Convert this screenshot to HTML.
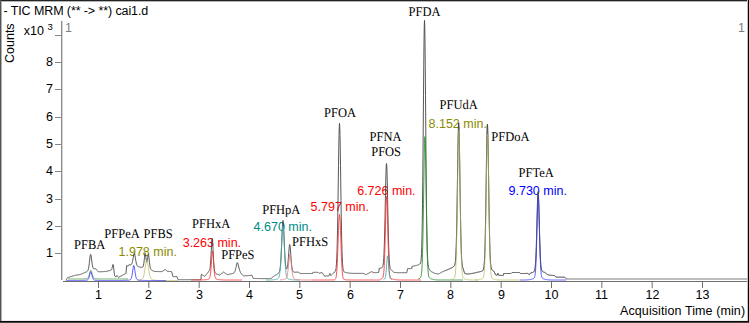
<!DOCTYPE html>
<html><head><meta charset="utf-8"><style>
html,body{margin:0;padding:0;background:#fff;}
#c{position:relative;width:749px;height:323px;overflow:hidden;background:#fff;}
.t{position:absolute;white-space:nowrap;line-height:12.5px;font-size:12.5px;font-family:'Liberation Sans', sans-serif;color:#000;}
.yl,.xl{font-size:12.5px;}
.b{position:absolute;}
svg{position:absolute;left:0;top:0;}
</style></head><body><div id="c">
<div class="t" style="left:3.5px;top:5px;font-family:'Liberation Sans', sans-serif;font-size:12.5px;color:#000;letter-spacing:-0.1px;">- TIC MRM (** -&gt; **) cai1.d</div>
<div class="t" style="left:620px;top:305px;font-family:'Liberation Sans', sans-serif;font-size:12.5px;color:#000;letter-spacing:0.1px;">Acquisition Time (min)</div>
<div class="t yl" style="left:30px;width:23px;text-align:right;top:247px">1</div>
<div class="t yl" style="left:30px;width:23px;text-align:right;top:220px">2</div>
<div class="t yl" style="left:30px;width:23px;text-align:right;top:193px">3</div>
<div class="t yl" style="left:30px;width:23px;text-align:right;top:165px">4</div>
<div class="t yl" style="left:30px;width:23px;text-align:right;top:138px">5</div>
<div class="t yl" style="left:30px;width:23px;text-align:right;top:111px">6</div>
<div class="t yl" style="left:30px;width:23px;text-align:right;top:83px">7</div>
<div class="t yl" style="left:30px;width:23px;text-align:right;top:56px">8</div>
<div class="t xl" style="left:78px;width:41px;text-align:center;top:289px">1</div>
<div class="t xl" style="left:128px;width:41px;text-align:center;top:289px">2</div>
<div class="t xl" style="left:179px;width:41px;text-align:center;top:289px">3</div>
<div class="t xl" style="left:229px;width:41px;text-align:center;top:289px">4</div>
<div class="t xl" style="left:279px;width:41px;text-align:center;top:289px">5</div>
<div class="t xl" style="left:330px;width:41px;text-align:center;top:289px">6</div>
<div class="t xl" style="left:380px;width:41px;text-align:center;top:289px">7</div>
<div class="t xl" style="left:430px;width:41px;text-align:center;top:289px">8</div>
<div class="t xl" style="left:481px;width:41px;text-align:center;top:289px">9</div>
<div class="t xl" style="left:531px;width:41px;text-align:center;top:289px">10</div>
<div class="t xl" style="left:581px;width:41px;text-align:center;top:289px">11</div>
<div class="t xl" style="left:632px;width:41px;text-align:center;top:289px">12</div>
<div class="t xl" style="left:682px;width:41px;text-align:center;top:289px">13</div>
<div class="t" style="left:74px;top:239px;font-family:'Liberation Serif', serif;font-size:12.5px;color:#000;text-rendering:geometricPrecision;transform:scaleY(1.065);transform-origin:0 10px;">PFBA</div>
<div class="t" style="left:104.3px;top:228px;font-family:'Liberation Serif', serif;font-size:12.5px;color:#000;text-rendering:geometricPrecision;transform:scaleY(1.065);transform-origin:0 10px;">PFPeA</div>
<div class="t" style="left:143.6px;top:228px;font-family:'Liberation Serif', serif;font-size:12.5px;color:#000;text-rendering:geometricPrecision;transform:scaleY(1.065);transform-origin:0 10px;">PFBS</div>
<div class="t" style="left:192px;top:218px;font-family:'Liberation Serif', serif;font-size:12.5px;color:#000;text-rendering:geometricPrecision;transform:scaleY(1.065);transform-origin:0 10px;">PFHxA</div>
<div class="t" style="left:221.2px;top:249px;font-family:'Liberation Serif', serif;font-size:12.5px;color:#000;text-rendering:geometricPrecision;transform:scaleY(1.065);transform-origin:0 10px;">PFPeS</div>
<div class="t" style="left:262.2px;top:204px;font-family:'Liberation Serif', serif;font-size:12.5px;color:#000;text-rendering:geometricPrecision;transform:scaleY(1.065);transform-origin:0 10px;">PFHpA</div>
<div class="t" style="left:292px;top:236px;font-family:'Liberation Serif', serif;font-size:12.5px;color:#000;text-rendering:geometricPrecision;transform:scaleY(1.065);transform-origin:0 10px;">PFHxS</div>
<div class="t" style="left:324px;top:107px;font-family:'Liberation Serif', serif;font-size:12.5px;color:#000;text-rendering:geometricPrecision;transform:scaleY(1.065);transform-origin:0 10px;">PFOA</div>
<div class="t" style="left:369.6px;top:131px;font-family:'Liberation Serif', serif;font-size:12.5px;color:#000;text-rendering:geometricPrecision;transform:scaleY(1.065);transform-origin:0 10px;">PFNA</div>
<div class="t" style="left:371.2px;top:146px;font-family:'Liberation Serif', serif;font-size:12.5px;color:#000;text-rendering:geometricPrecision;transform:scaleY(1.065);transform-origin:0 10px;">PFOS</div>
<div class="t" style="left:408.5px;top:6px;font-family:'Liberation Serif', serif;font-size:12.5px;color:#000;text-rendering:geometricPrecision;transform:scaleY(1.065);transform-origin:0 10px;">PFDA</div>
<div class="t" style="left:439.5px;top:99px;font-family:'Liberation Serif', serif;font-size:12.5px;color:#000;text-rendering:geometricPrecision;transform:scaleY(1.065);transform-origin:0 10px;">PFUdA</div>
<div class="t" style="left:491.3px;top:131px;font-family:'Liberation Serif', serif;font-size:12.5px;color:#000;text-rendering:geometricPrecision;transform:scaleY(1.065);transform-origin:0 10px;">PFDoA</div>
<div class="t" style="left:518.5px;top:167px;font-family:'Liberation Serif', serif;font-size:12.5px;color:#000;text-rendering:geometricPrecision;transform:scaleY(1.065);transform-origin:0 10px;">PFTeA</div>
<div class="t" style="left:118.5px;top:246px;font-family:'Liberation Sans', sans-serif;font-size:12.5px;color:#8b8b00;">1.978 min.</div>
<div class="t" style="left:182.7px;top:237px;font-family:'Liberation Sans', sans-serif;font-size:12.5px;color:#ff0000;">3.263 min.</div>
<div class="t" style="left:253.6px;top:221px;font-family:'Liberation Sans', sans-serif;font-size:12.5px;color:#008b8b;">4.670 min.</div>
<div class="t" style="left:310.6px;top:201px;font-family:'Liberation Sans', sans-serif;font-size:12.5px;color:#ff0000;">5.797 min.</div>
<div class="t" style="left:357.2px;top:185px;font-family:'Liberation Sans', sans-serif;font-size:12.5px;color:#ff0000;">6.726 min.</div>
<div class="t" style="left:428.5px;top:118px;font-family:'Liberation Sans', sans-serif;font-size:12.5px;color:#8b8b00;">8.152 min.</div>
<div class="t" style="left:508.5px;top:185px;font-family:'Liberation Sans', sans-serif;font-size:12.5px;color:#0000ff;">9.730 min.</div>
<svg width="749" height="323" viewBox="0 0 749 323">
<rect x="61" y="21" width="1" height="259" fill="#8c8c8c"/>
<rect x="62" y="21" width="1" height="259" fill="#d4d4d4"/>
<rect x="55" y="253" width="6" height="1" fill="#858585"/>
<rect x="55" y="226" width="6" height="1" fill="#858585"/>
<rect x="55" y="199" width="6" height="1" fill="#858585"/>
<rect x="55" y="171" width="6" height="1" fill="#858585"/>
<rect x="55" y="144" width="6" height="1" fill="#858585"/>
<rect x="55" y="117" width="6" height="1" fill="#858585"/>
<rect x="55" y="89" width="6" height="1" fill="#858585"/>
<rect x="55" y="62" width="6" height="1" fill="#858585"/>
<rect x="55" y="35" width="6" height="1" fill="#858585"/>
<rect x="566" y="278" width="181" height="2" fill="#bdbdbd"/>
<rect x="63" y="281" width="684" height="1" fill="#6e6e6e"/>
<rect x="98.0" y="282" width="1" height="6" fill="#6e6e6e"/>
<rect x="148.33" y="282" width="1" height="6" fill="#6e6e6e"/>
<rect x="198.67" y="282" width="1" height="6" fill="#6e6e6e"/>
<rect x="249.0" y="282" width="1" height="6" fill="#6e6e6e"/>
<rect x="299.33" y="282" width="1" height="6" fill="#6e6e6e"/>
<rect x="349.66" y="282" width="1" height="6" fill="#6e6e6e"/>
<rect x="400.0" y="282" width="1" height="6" fill="#6e6e6e"/>
<rect x="450.33" y="282" width="1" height="6" fill="#6e6e6e"/>
<rect x="500.66" y="282" width="1" height="6" fill="#6e6e6e"/>
<rect x="551.0" y="282" width="1" height="6" fill="#6e6e6e"/>
<rect x="601.33" y="282" width="1" height="6" fill="#6e6e6e"/>
<rect x="651.66" y="282" width="1" height="6" fill="#6e6e6e"/>
<rect x="702.0" y="282" width="1" height="6" fill="#6e6e6e"/>
<path d="M66.00,280.00 L66.25,279.62 L66.50,279.25 L66.75,278.88 L67.00,278.50 L67.25,278.12 L67.50,277.75 L67.75,277.55 L68.00,277.48 L68.25,277.40 L68.50,277.32 L68.75,277.25 L69.00,277.17 L69.25,277.10 L69.50,277.02 L69.75,276.94 L70.00,276.87 L70.25,276.79 L70.50,276.71 L70.75,276.64 L71.00,276.56 L71.25,276.49 L71.50,276.41 L71.75,276.34 L72.00,276.27 L72.25,276.19 L72.50,276.12 L72.75,276.05 L73.00,275.97 L73.25,275.90 L73.50,275.83 L73.75,275.75 L74.00,275.68 L74.25,275.61 L74.50,275.53 L74.75,275.46 L75.00,275.39 L75.25,275.31 L75.50,275.27 L75.75,275.23 L76.00,275.19 L76.25,275.15 L76.50,275.11 L76.75,275.07 L77.00,275.03 L77.25,274.99 L77.50,274.95 L77.75,274.91 L78.00,274.86 L78.25,274.82 L78.50,274.78 L78.75,274.74 L79.00,274.70 L79.25,274.65 L79.50,274.61 L79.75,274.57 L80.00,274.52 L80.25,274.48 L80.50,274.41 L80.75,274.30 L81.00,274.20 L81.25,274.10 L81.50,273.99 L81.75,273.88 L82.00,273.78 L82.25,273.67 L82.50,273.56 L82.75,273.45 L83.00,273.34 L83.25,273.24 L83.50,273.13 L83.75,273.02 L84.00,272.91 L84.25,272.80 L84.50,272.68 L84.75,272.57 L85.00,272.45 L85.25,272.36 L85.50,272.27 L85.75,272.17 L86.00,272.07 L86.25,271.96 L86.50,271.84 L86.75,271.70 L87.00,271.54 L87.25,271.34 L87.50,271.08 L87.75,270.72 L88.00,270.21 L88.25,269.46 L88.50,268.44 L88.75,267.13 L89.00,265.48 L89.25,263.53 L89.50,261.34 L89.75,259.08 L90.00,256.97 L90.25,255.32 L90.50,254.40 L90.75,254.41 L91.00,255.32 L91.25,256.90 L91.50,258.87 L91.75,260.92 L92.00,262.87 L92.25,264.56 L92.50,265.94 L92.75,267.00 L93.00,267.75 L93.25,268.25 L93.50,268.57 L93.75,268.74 L94.00,268.83 L94.25,268.86 L94.50,268.85 L94.75,268.82 L95.00,268.77 L95.25,268.72 L95.50,268.65 L95.75,268.67 L96.00,268.99 L96.25,269.31 L96.50,269.63 L96.75,269.95 L97.00,270.27 L97.25,270.58 L97.50,270.89 L97.75,271.20 L98.00,271.51 L98.25,271.76 L98.50,271.76 L98.75,271.75 L99.00,271.75 L99.25,271.75 L99.50,271.75 L99.75,271.74 L100.00,271.74 L100.25,271.73 L100.50,271.72 L100.75,271.72 L101.00,271.71 L101.25,271.70 L101.50,271.69 L101.75,271.68 L102.00,271.67 L102.25,271.66 L102.50,271.65 L102.75,271.64 L103.00,271.63 L103.25,271.62 L103.50,271.61 L103.75,271.60 L104.00,271.59 L104.25,271.58 L104.50,271.57 L104.75,271.55 L105.00,271.54 L105.25,271.52 L105.50,271.51 L105.75,271.50 L106.00,271.48 L106.25,271.42 L106.50,271.36 L106.75,271.29 L107.00,271.23 L107.25,271.16 L107.50,271.10 L107.75,271.03 L108.00,270.97 L108.25,270.90 L108.50,270.84 L108.75,270.77 L109.00,270.70 L109.25,270.63 L109.50,270.56 L109.75,270.49 L110.00,270.41 L110.25,270.34 L110.50,270.25 L110.75,270.16 L111.00,270.05 L111.25,269.90 L111.50,269.66 L111.75,269.22 L112.00,268.49 L112.25,267.46 L112.50,266.18 L112.75,265.00 L113.00,264.50 L113.25,265.00 L113.50,266.18 L113.75,268.71 L114.00,270.99 L114.25,272.91 L114.50,274.53 L114.75,275.96 L115.00,276.39 L115.25,276.54 L115.50,276.67 L115.75,276.79 L116.00,276.91 L116.25,276.55 L116.50,276.19 L116.75,275.82 L117.00,275.45 L117.25,275.79 L117.50,276.13 L117.75,276.46 L118.00,276.80 L118.25,277.14 L118.50,277.47 L118.75,277.31 L119.00,277.14 L119.25,276.98 L119.50,276.81 L119.75,276.65 L120.00,276.48 L120.25,276.36 L120.50,276.23 L120.75,276.11 L121.00,275.98 L121.25,275.86 L121.50,275.73 L121.75,275.60 L122.00,275.48 L122.25,275.35 L122.50,275.22 L122.75,275.10 L123.00,274.97 L123.25,274.84 L123.50,274.71 L123.75,274.58 L124.00,274.45 L124.25,274.32 L124.50,274.19 L124.75,274.06 L125.00,273.93 L125.25,273.80 L125.50,273.66 L125.75,273.53 L126.00,273.39 L126.25,270.05 L126.50,266.71 L126.75,265.48 L127.00,265.64 L127.25,265.81 L127.50,265.98 L127.75,266.15 L128.00,266.31 L128.25,265.87 L128.50,265.43 L128.75,264.99 L129.00,264.54 L129.25,264.63 L129.50,264.72 L129.75,264.80 L130.00,264.87 L130.25,264.93 L130.50,264.97 L130.75,264.91 L131.00,264.80 L131.25,264.62 L131.50,264.34 L131.75,263.92 L132.00,263.32 L132.25,262.53 L132.50,261.51 L132.75,260.29 L133.00,258.89 L133.25,257.40 L133.50,255.94 L133.75,254.65 L134.00,253.74 L134.25,253.36 L134.50,253.60 L134.75,254.43 L135.00,255.70 L135.25,257.22 L135.50,258.83 L135.75,260.38 L136.00,261.78 L136.25,262.99 L136.50,263.98 L136.75,264.76 L137.00,265.35 L137.25,265.78 L137.50,266.10 L137.75,266.33 L138.00,266.50 L138.25,266.63 L138.50,266.74 L138.75,266.83 L139.00,266.90 L139.25,266.97 L139.50,267.03 L139.75,267.08 L140.00,267.13 L140.25,267.17 L140.50,267.21 L140.75,267.25 L141.00,267.27 L141.25,267.30 L141.50,267.31 L141.75,267.31 L142.00,267.29 L142.25,267.26 L142.50,267.17 L142.75,266.98 L143.00,266.64 L143.25,266.04 L143.50,265.11 L143.75,263.75 L144.00,261.95 L144.25,259.77 L144.50,257.43 L144.75,255.27 L145.00,253.78 L145.25,253.39 L145.50,254.23 L145.75,255.97 L146.00,258.08 L146.25,260.06 L146.50,261.51 L146.75,262.18 L147.00,261.99 L147.25,260.97 L147.50,259.31 L147.75,257.34 L148.00,255.52 L148.25,254.40 L148.50,254.43 L148.75,255.66 L149.00,257.75 L149.25,260.21 L149.50,262.63 L149.75,264.74 L150.00,266.42 L150.25,267.66 L150.50,268.52 L150.75,269.10 L151.00,269.48 L151.25,269.75 L151.50,269.94 L151.75,270.10 L152.00,270.23 L152.25,270.40 L152.50,270.55 L152.75,270.70 L153.00,270.84 L153.25,270.98 L153.50,271.12 L153.75,271.26 L154.00,271.39 L154.25,271.41 L154.50,271.42 L154.75,271.44 L155.00,271.45 L155.25,271.46 L155.50,271.47 L155.75,271.48 L156.00,271.49 L156.25,271.50 L156.50,271.51 L156.75,271.52 L157.00,271.53 L157.25,271.53 L157.50,271.54 L157.75,271.55 L158.00,271.55 L158.25,271.56 L158.50,271.56 L158.75,271.57 L159.00,271.57 L159.25,271.58 L159.50,271.58 L159.75,271.58 L160.00,271.59 L160.25,271.59 L160.50,271.59 L160.75,271.59 L161.00,271.59 L161.25,271.59 L161.50,271.60 L161.75,271.60 L162.00,271.60 L162.25,271.43 L162.50,271.27 L162.75,271.10 L163.00,270.93 L163.25,270.77 L163.50,270.60 L163.75,270.43 L164.00,270.27 L164.25,270.10 L164.50,269.93 L164.75,269.77 L165.00,269.60 L165.25,269.43 L165.50,269.61 L165.75,269.88 L166.00,270.14 L166.25,270.41 L166.50,270.67 L166.75,270.94 L167.00,271.20 L167.25,271.22 L167.50,271.24 L167.75,271.27 L168.00,271.29 L168.25,271.31 L168.50,271.33 L168.75,271.35 L169.00,271.37 L169.25,271.40 L169.50,271.42 L169.75,271.44 L170.00,271.46 L170.25,271.48 L170.50,271.50 L170.75,271.53 L171.00,271.55 L171.25,271.57 L171.50,271.59 L171.75,272.18 L172.00,273.14 L172.25,274.10 L172.50,275.06 L172.75,276.02 L173.00,276.60 L173.25,276.60 L173.50,276.60 L173.75,276.60 L174.00,276.60 L174.25,276.60 L174.50,276.60 L174.75,276.60 L175.00,276.60 L175.25,276.60 L175.50,276.60 L175.75,276.60 L176.00,276.60 L176.25,276.60 L176.50,276.60 L176.75,276.60 L177.00,276.60 L177.25,277.46 L177.50,278.32 L177.75,279.18 L178.00,279.70 L178.25,279.70 L178.50,279.70 L178.75,279.70 L179.00,279.70 L179.25,279.70 L179.50,279.70 L179.75,279.70 L180.00,279.70 L180.25,279.70 L180.50,279.70 L180.75,279.70 L181.00,279.70 L181.25,279.70 L181.50,279.70 L181.75,279.70 L182.00,279.70 L182.25,279.70 L182.50,279.70 L182.75,279.70 L183.00,279.70 L183.25,279.70 L183.50,279.70 L183.75,279.70 L184.00,279.70 L184.25,279.70 L184.50,279.70 L184.75,279.70 L185.00,279.70 L185.25,279.70 L185.50,279.70 L185.75,279.70 L186.00,279.70 L186.25,279.70 L186.50,279.70 L186.75,279.70 L187.00,279.70 L187.25,279.70 L187.50,279.70 L187.75,279.70 L188.00,279.70 L188.25,279.70 L188.50,279.70 L188.75,279.70 L189.00,279.70 L189.25,279.70 L189.50,279.70 L189.75,279.70 L190.00,279.70 L190.25,279.70 L190.50,279.70 L190.75,279.70 L191.00,279.70 L191.25,279.70 L191.50,279.70 L191.75,279.70 L192.00,279.70 L192.25,279.70 L192.50,279.70 L192.75,279.70 L193.00,279.70 L193.25,279.70 L193.50,279.70 L193.75,279.70 L194.00,279.70 L194.25,279.70 L194.50,279.70 L194.75,279.70 L195.00,279.70 L195.25,279.70 L195.50,279.70 L195.75,279.70 L196.00,279.70 L196.25,279.70 L196.50,279.70 L196.75,279.70 L197.00,279.70 L197.25,279.70 L197.50,279.70 L197.75,279.70 L198.00,279.70 L198.25,279.70 L198.50,279.70 L198.75,279.69 L199.00,279.69 L199.25,279.68 L199.50,279.68 L199.75,279.68 L200.00,279.67 L200.25,279.67 L200.50,279.66 L200.75,279.65 L201.00,279.65 L201.25,275.14 L201.50,274.36 L201.75,274.52 L202.00,274.67 L202.25,274.83 L202.50,274.98 L202.75,275.13 L203.00,275.28 L203.25,275.43 L203.50,275.58 L203.75,275.73 L204.00,275.87 L204.25,276.01 L204.50,276.16 L204.75,276.31 L205.00,276.11 L205.25,275.82 L205.50,275.53 L205.75,275.23 L206.00,274.94 L206.25,274.64 L206.50,274.33 L206.75,274.02 L207.00,273.71 L207.25,273.39 L207.50,273.06 L207.75,272.72 L208.00,272.37 L208.25,272.00 L208.50,271.61 L208.75,271.48 L209.00,271.28 L209.25,270.96 L209.50,270.44 L209.75,269.61 L210.00,268.32 L210.25,266.41 L210.50,263.74 L210.75,260.23 L211.00,255.92 L211.25,251.13 L211.50,246.24 L211.75,241.96 L212.00,239.13 L212.25,238.49 L212.50,240.24 L212.75,243.93 L213.00,248.73 L213.25,253.82 L213.50,258.62 L213.75,262.75 L214.00,266.06 L214.25,268.54 L214.50,270.31 L214.75,271.52 L215.00,272.34 L215.25,272.85 L215.50,273.19 L215.75,273.44 L216.00,273.63 L216.25,273.79 L216.50,273.92 L216.75,274.04 L217.00,274.14 L217.25,274.24 L217.50,274.33 L217.75,274.42 L218.00,274.50 L218.25,274.57 L218.50,274.64 L218.75,274.71 L219.00,274.78 L219.25,274.84 L219.50,274.90 L219.75,274.91 L220.00,274.72 L220.25,274.53 L220.50,274.35 L220.75,274.17 L221.00,273.98 L221.25,273.79 L221.50,273.60 L221.75,273.41 L222.00,273.22 L222.25,273.03 L222.50,272.83 L222.75,272.64 L223.00,272.44 L223.25,272.25 L223.50,272.05 L223.75,272.22 L224.00,272.40 L224.25,272.57 L224.50,272.75 L224.75,272.92 L225.00,273.10 L225.25,273.27 L225.50,273.44 L225.75,273.61 L226.00,273.78 L226.25,273.95 L226.50,274.12 L226.75,274.29 L227.00,274.45 L227.25,274.62 L227.50,274.62 L227.75,274.57 L228.00,274.52 L228.25,274.47 L228.50,274.43 L228.75,274.38 L229.00,274.33 L229.25,274.27 L229.50,274.22 L229.75,274.18 L230.00,274.13 L230.25,274.08 L230.50,274.03 L230.75,273.97 L231.00,273.92 L231.25,273.87 L231.50,273.81 L231.75,273.75 L232.00,273.69 L232.25,273.63 L232.50,273.56 L232.75,273.48 L233.00,273.40 L233.25,273.30 L233.50,273.18 L233.75,273.02 L234.00,272.82 L234.25,272.57 L234.50,272.24 L234.75,271.80 L235.00,271.23 L235.25,270.52 L235.50,269.65 L235.75,268.64 L236.00,267.51 L236.25,266.33 L236.50,265.15 L236.75,264.08 L237.00,263.25 L237.25,262.75 L237.50,262.69 L237.75,263.05 L238.00,263.77 L238.25,264.75 L238.50,265.87 L238.75,267.01 L239.00,268.10 L239.25,269.09 L239.50,269.93 L239.75,270.63 L240.00,271.18 L240.25,271.83 L240.50,272.38 L240.75,272.83 L241.00,273.21 L241.25,273.55 L241.50,273.85 L241.75,274.13 L242.00,274.39 L242.25,274.64 L242.50,274.89 L242.75,275.13 L243.00,275.36 L243.25,275.59 L243.50,275.83 L243.75,275.91 L244.00,275.90 L244.25,275.88 L244.50,275.87 L244.75,275.85 L245.00,275.83 L245.25,275.81 L245.50,275.80 L245.75,275.78 L246.00,275.77 L246.25,275.75 L246.50,275.73 L246.75,275.71 L247.00,275.69 L247.25,275.67 L247.50,275.65 L247.75,275.63 L248.00,275.61 L248.25,275.59 L248.50,275.57 L248.75,275.54 L249.00,275.52 L249.25,275.50 L249.50,275.48 L249.75,275.45 L250.00,275.43 L250.25,275.41 L250.50,275.37 L250.75,275.30 L251.00,275.23 L251.25,275.16 L251.50,275.09 L251.75,275.01 L252.00,275.49 L252.25,276.09 L252.50,276.70 L252.75,277.31 L253.00,277.91 L253.25,278.40 L253.50,278.41 L253.75,278.42 L254.00,278.42 L254.25,278.43 L254.50,278.44 L254.75,278.45 L255.00,278.45 L255.25,278.46 L255.50,278.47 L255.75,278.48 L256.00,278.48 L256.25,278.49 L256.50,278.50 L256.75,278.50 L257.00,278.51 L257.25,278.52 L257.50,278.53 L257.75,278.53 L258.00,278.54 L258.25,278.55 L258.50,278.56 L258.75,278.56 L259.00,278.57 L259.25,278.58 L259.50,278.59 L259.75,278.59 L260.00,278.60 L260.25,278.60 L260.50,278.60 L260.75,278.60 L261.00,278.60 L261.25,278.60 L261.50,278.60 L261.75,278.60 L262.00,278.60 L262.25,278.60 L262.50,278.60 L262.75,278.60 L263.00,278.60 L263.25,278.60 L263.50,278.60 L263.75,278.60 L264.00,278.60 L264.25,278.60 L264.50,278.60 L264.75,278.60 L265.00,278.60 L265.25,278.60 L265.50,278.60 L265.75,278.60 L266.00,278.60 L266.25,278.60 L266.50,278.60 L266.75,278.60 L267.00,278.60 L267.25,278.60 L267.50,278.60 L267.75,278.60 L268.00,278.60 L268.25,278.60 L268.50,278.60 L268.75,278.60 L269.00,278.60 L269.25,278.60 L269.50,278.59 L269.75,278.58 L270.00,278.58 L270.25,278.57 L270.50,278.56 L270.75,278.56 L271.00,278.47 L271.25,278.28 L271.50,278.09 L271.75,277.89 L272.00,277.70 L272.25,277.50 L272.50,277.31 L272.75,277.11 L273.00,276.91 L273.25,276.71 L273.50,276.50 L273.75,276.30 L274.00,276.09 L274.25,275.88 L274.50,275.75 L274.75,275.62 L275.00,275.50 L275.25,275.38 L275.50,275.27 L275.75,275.15 L276.00,275.02 L276.25,274.89 L276.50,274.76 L276.75,274.62 L277.00,274.48 L277.25,274.27 L277.50,274.04 L277.75,273.80 L278.00,273.56 L278.25,273.29 L278.50,272.99 L278.75,272.64 L279.00,272.22 L279.25,271.81 L279.50,271.22 L279.75,270.37 L280.00,269.14 L280.25,267.41 L280.50,265.05 L280.75,261.92 L281.00,257.96 L281.25,253.17 L281.50,247.64 L281.75,241.61 L282.00,235.47 L282.25,229.69 L282.50,224.88 L282.75,221.64 L283.00,220.47 L283.25,221.55 L283.50,224.68 L283.75,229.39 L284.00,235.07 L284.25,241.11 L284.50,247.02 L284.75,252.43 L285.00,257.09 L285.25,260.89 L285.50,263.85 L285.75,266.02 L286.00,267.50 L286.25,268.44 L286.50,268.91 L286.75,268.94 L287.00,268.56 L287.25,267.75 L287.50,266.47 L287.75,264.66 L288.00,262.32 L288.25,259.46 L288.50,256.22 L288.75,252.79 L289.00,249.49 L289.25,246.73 L289.50,244.96 L289.75,244.55 L290.00,245.60 L290.25,247.89 L290.50,251.00 L290.75,254.47 L291.00,257.94 L291.25,261.15 L291.50,263.93 L291.75,266.19 L292.00,267.96 L292.25,269.27 L292.50,270.21 L292.75,270.87 L293.00,271.32 L293.25,271.63 L293.50,271.85 L293.75,272.01 L294.00,272.13 L294.25,272.18 L294.50,272.21 L294.75,272.22 L295.00,272.23 L295.25,272.23 L295.50,272.23 L295.75,272.22 L296.00,272.21 L296.25,272.19 L296.50,272.17 L296.75,272.15 L297.00,272.12 L297.25,272.09 L297.50,272.05 L297.75,272.02 L298.00,271.99 L298.25,272.18 L298.50,272.36 L298.75,272.54 L299.00,272.71 L299.25,272.89 L299.50,273.06 L299.75,273.24 L300.00,273.41 L300.25,273.42 L300.50,273.43 L300.75,273.44 L301.00,273.45 L301.25,273.45 L301.50,273.46 L301.75,273.47 L302.00,273.47 L302.25,273.48 L302.50,273.48 L302.75,273.49 L303.00,273.49 L303.25,273.49 L303.50,273.50 L303.75,273.50 L304.00,273.50 L304.25,273.50 L304.50,273.50 L304.75,273.50 L305.00,273.50 L305.25,273.50 L305.50,273.50 L305.75,273.50 L306.00,273.50 L306.25,273.50 L306.50,273.50 L306.75,273.50 L307.00,273.50 L307.25,273.50 L307.50,273.50 L307.75,273.50 L308.00,273.50 L308.25,273.50 L308.50,273.50 L308.75,273.50 L309.00,273.50 L309.25,273.50 L309.50,273.50 L309.75,273.50 L310.00,273.50 L310.25,273.50 L310.50,273.50 L310.75,273.50 L311.00,273.50 L311.25,273.50 L311.50,273.50 L311.75,273.50 L312.00,273.50 L312.25,273.50 L312.50,273.50 L312.75,272.50 L313.00,272.30 L313.25,272.30 L313.50,272.30 L313.75,272.30 L314.00,272.30 L314.25,272.30 L314.50,272.30 L314.75,272.30 L315.00,272.30 L315.25,272.30 L315.50,272.30 L315.75,272.30 L316.00,272.30 L316.25,272.30 L316.50,272.30 L316.75,272.30 L317.00,272.30 L317.25,272.30 L317.50,272.30 L317.75,272.30 L318.00,272.30 L318.25,272.55 L318.50,272.80 L318.75,273.05 L319.00,273.30 L319.25,273.23 L319.50,273.17 L319.75,273.10 L320.00,273.03 L320.25,272.97 L320.50,272.90 L320.75,272.83 L321.00,272.77 L321.25,272.70 L321.50,272.63 L321.75,272.57 L322.00,272.50 L322.25,272.86 L322.50,273.22 L322.75,273.58 L323.00,273.94 L323.25,274.30 L323.50,274.66 L323.75,275.02 L324.00,275.38 L324.25,275.74 L324.50,276.10 L324.75,276.10 L325.00,276.10 L325.25,276.10 L325.50,276.10 L325.75,276.09 L326.00,276.08 L326.25,276.07 L326.50,276.06 L326.75,276.05 L327.00,276.04 L327.25,276.03 L327.50,276.01 L327.75,276.00 L328.00,275.98 L328.25,275.96 L328.50,275.94 L328.75,275.92 L329.00,275.90 L329.25,275.30 L329.50,274.69 L329.75,274.09 L330.00,273.48 L330.25,274.00 L330.50,274.51 L330.75,275.02 L331.00,275.52 L331.25,275.28 L331.50,275.03 L331.75,274.81 L332.00,274.58 L332.25,274.35 L332.50,274.11 L332.75,273.87 L333.00,273.62 L333.25,273.38 L333.50,273.14 L333.75,272.89 L334.00,272.62 L334.25,272.33 L334.50,272.02 L334.75,271.90 L335.00,271.72 L335.25,271.41 L335.50,270.89 L335.75,270.03 L336.00,268.66 L336.25,266.40 L336.50,263.04 L336.75,258.16 L337.00,251.38 L337.25,242.32 L337.50,230.76 L337.75,216.72 L338.00,200.58 L338.25,183.07 L338.50,165.35 L338.75,148.90 L339.00,135.40 L339.25,126.47 L339.50,123.32 L339.75,126.44 L340.00,135.35 L340.25,148.83 L340.50,165.25 L340.75,182.94 L341.00,200.43 L341.25,216.55 L341.50,230.56 L341.75,242.09 L342.00,251.13 L342.25,257.89 L342.50,262.74 L342.75,266.08 L343.00,268.31 L343.25,269.76 L343.50,270.68 L343.75,271.27 L344.00,271.65 L344.25,271.90 L344.50,272.08 L344.75,272.21 L345.00,272.32 L345.25,272.40 L345.50,272.47 L345.75,272.53 L346.00,272.59 L346.25,272.63 L346.50,272.67 L346.75,272.70 L347.00,272.73 L347.25,272.77 L347.50,272.81 L347.75,272.87 L348.00,272.92 L348.25,272.97 L348.50,273.01 L348.75,273.05 L349.00,273.08 L349.25,273.12 L349.50,273.14 L349.75,273.17 L350.00,273.20 L350.25,273.22 L350.50,273.24 L350.75,273.26 L351.00,273.28 L351.25,273.30 L351.50,273.31 L351.75,273.33 L352.00,273.34 L352.25,273.35 L352.50,273.36 L352.75,273.37 L353.00,273.38 L353.25,273.39 L353.50,273.40 L353.75,273.40 L354.00,273.40 L354.25,273.40 L354.50,273.40 L354.75,273.40 L355.00,273.40 L355.25,273.40 L355.50,273.40 L355.75,273.40 L356.00,273.40 L356.25,273.40 L356.50,273.40 L356.75,273.40 L357.00,273.40 L357.25,273.40 L357.50,273.40 L357.75,273.40 L358.00,273.40 L358.25,273.40 L358.50,273.40 L358.75,273.40 L359.00,273.40 L359.25,273.40 L359.50,273.40 L359.75,273.40 L360.00,273.40 L360.25,273.40 L360.50,273.40 L360.75,273.40 L361.00,273.40 L361.25,273.40 L361.50,273.40 L361.75,273.40 L362.00,273.40 L362.25,273.40 L362.50,273.40 L362.75,273.40 L363.00,273.40 L363.25,273.40 L363.50,273.45 L363.75,273.57 L364.00,273.70 L364.25,273.82 L364.50,273.95 L364.75,274.07 L365.00,274.20 L365.25,274.32 L365.50,274.45 L365.75,274.57 L366.00,274.70 L366.25,274.56 L366.50,274.41 L366.75,274.27 L367.00,274.13 L367.25,273.99 L367.50,273.84 L367.75,273.70 L368.00,273.56 L368.25,273.41 L368.50,273.27 L368.75,273.13 L369.00,272.99 L369.25,272.84 L369.50,272.70 L369.75,272.57 L370.00,272.44 L370.25,272.31 L370.50,272.18 L370.75,272.05 L371.00,271.91 L371.25,271.78 L371.50,271.65 L371.75,271.68 L372.00,271.82 L372.25,271.96 L372.50,272.09 L372.75,272.23 L373.00,272.36 L373.25,272.49 L373.50,272.63 L373.75,272.68 L374.00,272.67 L374.25,272.66 L374.50,272.66 L374.75,272.65 L375.00,272.64 L375.25,272.63 L375.50,272.63 L375.75,272.62 L376.00,272.60 L376.25,272.59 L376.50,272.58 L376.75,272.57 L377.00,272.55 L377.25,272.53 L377.50,272.52 L377.75,272.50 L378.00,272.47 L378.25,272.45 L378.50,272.42 L378.75,272.40 L379.00,270.34 L379.25,268.26 L379.50,268.24 L379.75,268.22 L380.00,268.19 L380.25,268.15 L380.50,268.12 L380.75,268.08 L381.00,268.03 L381.25,267.97 L381.50,267.89 L381.75,267.79 L382.00,267.63 L382.25,267.39 L382.50,267.01 L382.75,266.44 L383.00,265.50 L383.25,264.01 L383.50,261.71 L383.75,258.32 L384.00,253.56 L384.25,247.15 L384.50,238.96 L384.75,228.99 L385.00,217.54 L385.25,205.14 L385.50,192.66 L385.75,181.14 L386.00,171.76 L386.25,165.61 L386.50,163.50 L386.75,165.75 L387.00,172.03 L387.25,181.55 L387.50,193.20 L387.75,205.82 L388.00,218.34 L388.25,229.93 L388.50,240.03 L388.75,248.36 L389.00,254.90 L389.25,259.80 L389.50,263.32 L389.75,265.75 L390.00,267.38 L390.25,268.46 L390.50,269.03 L390.75,269.31 L391.00,269.57 L391.25,269.80 L391.50,270.08 L391.75,270.36 L392.00,270.63 L392.25,270.88 L392.50,271.12 L392.75,271.35 L393.00,271.58 L393.25,271.79 L393.50,272.00 L393.75,272.20 L394.00,272.39 L394.25,272.40 L394.50,272.42 L394.75,272.45 L395.00,272.47 L395.25,272.50 L395.50,272.52 L395.75,272.53 L396.00,272.55 L396.25,272.57 L396.50,272.58 L396.75,272.59 L397.00,272.60 L397.25,272.62 L397.50,272.63 L397.75,272.63 L398.00,272.64 L398.25,272.65 L398.50,272.66 L398.75,272.66 L399.00,272.67 L399.25,272.68 L399.50,272.68 L399.75,272.69 L400.00,272.69 L400.25,272.70 L400.50,272.70 L400.75,272.70 L401.00,272.70 L401.25,272.70 L401.50,272.70 L401.75,272.70 L402.00,272.70 L402.25,272.70 L402.50,272.70 L402.75,272.70 L403.00,272.70 L403.25,272.70 L403.50,272.70 L403.75,272.70 L404.00,272.70 L404.25,272.70 L404.50,272.70 L404.75,272.70 L405.00,272.70 L405.25,272.70 L405.50,272.70 L405.75,272.70 L406.00,272.70 L406.25,272.70 L406.50,272.70 L406.75,272.70 L407.00,271.68 L407.25,270.39 L407.50,269.11 L407.75,268.60 L408.00,268.60 L408.25,268.60 L408.50,268.60 L408.75,268.60 L409.00,268.60 L409.25,268.60 L409.50,268.60 L409.75,268.60 L410.00,268.60 L410.25,268.60 L410.50,268.60 L410.75,268.59 L411.00,268.57 L411.25,268.56 L411.50,268.54 L411.75,268.52 L412.00,266.97 L412.25,266.19 L412.50,266.16 L412.75,266.14 L413.00,266.11 L413.25,266.09 L413.50,266.06 L413.75,266.02 L414.00,265.99 L414.25,265.95 L414.50,265.91 L414.75,265.86 L415.00,265.81 L415.25,265.76 L415.50,265.70 L415.75,265.63 L416.00,265.56 L416.25,265.48 L416.50,265.39 L416.75,265.34 L417.00,265.27 L417.25,265.20 L417.50,265.13 L417.75,265.04 L418.00,264.95 L418.25,264.84 L418.50,264.73 L418.75,264.59 L419.00,264.44 L419.25,264.26 L419.50,264.05 L419.75,264.07 L420.00,263.99 L420.25,263.77 L420.50,263.28 L420.75,262.35 L421.00,260.71 L421.25,257.95 L421.50,253.52 L421.75,246.56 L422.00,236.50 L422.25,222.60 L422.50,204.32 L422.75,181.51 L423.00,154.65 L423.25,124.94 L423.50,94.36 L423.75,65.61 L424.00,41.77 L424.25,25.91 L424.50,20.39 L424.75,26.12 L425.00,42.20 L425.25,66.26 L425.50,95.23 L425.75,126.02 L426.00,155.94 L426.25,183.02 L426.50,206.04 L426.75,224.54 L427.00,238.66 L427.25,248.94 L427.50,256.11 L427.75,260.93 L428.00,264.09 L428.25,266.13 L428.50,267.45 L428.75,268.15 L429.00,268.68 L429.25,269.16 L429.50,269.60 L429.75,269.99 L430.00,270.35 L430.25,270.67 L430.50,270.91 L430.75,271.14 L431.00,271.35 L431.25,271.51 L431.50,271.66 L431.75,271.81 L432.00,271.94 L432.25,272.07 L432.50,272.20 L432.75,272.36 L433.00,272.50 L433.25,272.64 L433.50,272.78 L433.75,272.90 L434.00,273.02 L434.25,273.14 L434.50,273.26 L434.75,273.35 L435.00,273.41 L435.25,273.47 L435.50,273.52 L435.75,273.57 L436.00,273.61 L436.25,273.66 L436.50,273.70 L436.75,273.74 L437.00,273.78 L437.25,273.82 L437.50,273.86 L437.75,273.89 L438.00,273.93 L438.25,273.96 L438.50,273.99 L438.75,273.91 L439.00,273.76 L439.25,273.62 L439.50,273.47 L439.75,273.32 L440.00,273.18 L440.25,273.03 L440.50,272.88 L440.75,272.74 L441.00,272.59 L441.25,272.44 L441.50,272.29 L441.75,272.15 L442.00,272.00 L442.25,271.90 L442.50,271.79 L442.75,271.69 L443.00,271.59 L443.25,271.49 L443.50,271.38 L443.75,271.28 L444.00,271.18 L444.25,271.07 L444.50,270.97 L444.75,270.87 L445.00,270.76 L445.25,270.65 L445.50,270.54 L445.75,270.44 L446.00,270.34 L446.25,270.25 L446.50,270.15 L446.75,270.05 L447.00,269.94 L447.25,269.84 L447.50,269.74 L447.75,269.63 L448.00,269.53 L448.25,269.42 L448.50,269.31 L448.75,269.20 L449.00,269.08 L449.25,268.97 L449.50,268.85 L449.75,268.73 L450.00,268.61 L450.25,268.48 L450.50,268.35 L450.75,268.22 L451.00,268.10 L451.25,267.98 L451.50,267.86 L451.75,267.73 L452.00,267.60 L452.25,267.46 L452.50,267.31 L452.75,267.16 L453.00,267.00 L453.25,266.83 L453.50,266.64 L453.75,266.42 L454.00,266.15 L454.25,265.84 L454.50,265.52 L454.75,264.99 L455.00,264.09 L455.25,262.64 L455.50,260.36 L455.75,256.92 L456.00,251.92 L456.25,244.97 L456.50,235.72 L456.75,224.02 L457.00,209.94 L457.25,193.92 L457.50,176.79 L457.75,159.77 L458.00,144.35 L458.25,132.16 L458.50,124.67 L458.75,122.93 L459.00,127.19 L459.25,136.86 L459.50,150.69 L459.75,167.08 L460.00,184.45 L460.25,201.40 L460.50,216.87 L460.75,230.17 L461.00,241.03 L461.25,249.47 L461.50,255.75 L461.75,260.22 L462.00,263.29 L462.25,265.34 L462.50,266.69 L462.75,267.56 L463.00,268.34 L463.25,269.23 L463.50,270.02 L463.75,270.74 L464.00,271.43 L464.25,272.09 L464.50,272.74 L464.75,273.37 L465.00,273.54 L465.25,273.60 L465.50,273.65 L465.75,273.69 L466.00,273.73 L466.25,273.77 L466.50,273.80 L466.75,273.83 L467.00,273.88 L467.25,273.92 L467.50,273.96 L467.75,273.99 L468.00,274.00 L468.25,273.98 L468.50,273.96 L468.75,273.93 L469.00,273.90 L469.25,273.87 L469.50,273.84 L469.75,273.81 L470.00,273.78 L470.25,273.74 L470.50,273.70 L470.75,273.67 L471.00,273.63 L471.25,273.59 L471.50,273.55 L471.75,273.51 L472.00,273.47 L472.25,273.43 L472.50,273.38 L472.75,273.34 L473.00,273.29 L473.25,273.24 L473.50,273.19 L473.75,273.13 L474.00,273.08 L474.25,273.02 L474.50,272.96 L474.75,272.90 L475.00,272.84 L475.25,272.78 L475.50,272.72 L475.75,272.66 L476.00,272.59 L476.25,272.53 L476.50,272.46 L476.75,272.40 L477.00,272.33 L477.25,272.29 L477.50,272.24 L477.75,272.20 L478.00,272.15 L478.25,272.10 L478.50,272.05 L478.75,272.00 L479.00,271.94 L479.25,271.88 L479.50,271.82 L479.75,271.77 L480.00,271.71 L480.25,271.65 L480.50,271.59 L480.75,271.53 L481.00,271.46 L481.25,271.38 L481.50,271.29 L481.75,271.20 L482.00,271.09 L482.25,270.96 L482.50,270.80 L482.75,270.59 L483.00,270.29 L483.25,269.84 L483.50,269.15 L483.75,268.04 L484.00,266.30 L484.25,263.67 L484.50,259.79 L484.75,254.25 L485.00,246.66 L485.25,236.71 L485.50,224.26 L485.75,209.47 L486.00,192.86 L486.25,175.37 L486.50,158.26 L486.75,143.10 L487.00,131.52 L487.25,124.95 L487.50,124.30 L487.75,129.67 L488.00,140.30 L488.25,154.81 L488.50,171.59 L488.75,189.06 L489.00,205.85 L489.25,220.98 L489.50,233.83 L489.75,244.20 L490.00,252.16 L490.25,258.08 L490.50,262.27 L490.75,265.12 L491.00,267.01 L491.25,268.23 L491.50,269.03 L491.75,269.55 L492.00,269.91 L492.25,270.17 L492.50,270.39 L492.75,270.58 L493.00,270.75 L493.25,270.90 L493.50,271.04 L493.75,271.17 L494.00,271.30 L494.25,271.88 L494.50,272.45 L494.75,273.03 L495.00,273.59 L495.25,274.16 L495.50,274.72 L495.75,274.98 L496.00,275.02 L496.25,275.06 L496.50,275.09 L496.75,275.12 L497.00,275.15 L497.25,275.18 L497.50,274.66 L497.75,274.00 L498.00,273.34 L498.25,274.04 L498.50,274.73 L498.75,275.29 L499.00,275.31 L499.25,275.32 L499.50,275.33 L499.75,275.34 L500.00,275.35 L500.25,275.36 L500.50,275.37 L500.75,275.38 L501.00,275.39 L501.25,275.40 L501.50,275.40 L501.75,275.40 L502.00,275.40 L502.25,275.40 L502.50,275.40 L502.75,275.40 L503.00,275.40 L503.25,275.40 L503.50,274.77 L503.75,273.50 L504.00,273.50 L504.25,273.50 L504.50,273.50 L504.75,273.50 L505.00,273.50 L505.25,273.50 L505.50,273.50 L505.75,273.50 L506.00,273.50 L506.25,273.50 L506.50,273.50 L506.75,273.50 L507.00,273.50 L507.25,273.50 L507.50,273.50 L507.75,273.50 L508.00,273.50 L508.25,273.50 L508.50,273.50 L508.75,273.50 L509.00,273.50 L509.25,273.50 L509.50,273.50 L509.75,273.50 L510.00,273.50 L510.25,273.50 L510.50,273.50 L510.75,273.50 L511.00,273.50 L511.25,273.25 L511.50,273.00 L511.75,272.75 L512.00,272.50 L512.25,272.50 L512.50,272.50 L512.75,272.50 L513.00,272.50 L513.25,272.50 L513.50,272.50 L513.75,272.50 L514.00,272.50 L514.25,272.50 L514.50,272.50 L514.75,272.50 L515.00,272.50 L515.25,272.50 L515.50,272.50 L515.75,272.50 L516.00,272.50 L516.25,272.50 L516.50,272.50 L516.75,272.50 L517.00,272.50 L517.25,272.50 L517.50,272.50 L517.75,272.50 L518.00,272.50 L518.25,272.50 L518.50,272.50 L518.75,272.50 L519.00,272.50 L519.25,272.50 L519.50,272.65 L519.75,272.85 L520.00,273.04 L520.25,273.23 L520.50,273.42 L520.75,273.50 L521.00,273.50 L521.25,273.50 L521.50,273.50 L521.75,273.50 L522.00,273.50 L522.25,273.50 L522.50,273.50 L522.75,273.50 L523.00,273.50 L523.25,273.50 L523.50,273.50 L523.75,273.50 L524.00,273.50 L524.25,273.50 L524.50,273.49 L524.75,273.48 L525.00,273.47 L525.25,273.46 L525.50,273.45 L525.75,273.44 L526.00,273.43 L526.25,273.42 L526.50,273.40 L526.75,273.39 L527.00,273.37 L527.25,273.36 L527.50,273.42 L527.75,273.59 L528.00,273.77 L528.25,273.94 L528.50,274.11 L528.75,274.28 L529.00,274.45 L529.25,274.61 L529.50,274.36 L529.75,274.01 L530.00,273.65 L530.25,273.30 L530.50,272.96 L530.75,272.92 L531.00,272.88 L531.25,272.83 L531.50,272.79 L531.75,272.73 L532.00,272.67 L532.25,272.60 L532.50,272.52 L532.75,272.43 L533.00,272.33 L533.25,272.21 L533.50,272.05 L533.75,271.85 L534.00,271.58 L534.25,271.18 L534.50,270.56 L534.75,269.64 L535.00,268.27 L535.25,266.26 L535.50,263.38 L535.75,259.39 L536.00,254.08 L536.25,247.36 L536.50,239.25 L536.75,230.02 L537.00,220.15 L537.25,210.40 L537.50,201.72 L537.75,195.19 L538.00,191.81 L538.25,192.19 L538.50,196.23 L538.75,203.24 L539.00,212.19 L539.25,222.00 L539.50,231.76 L539.75,240.77 L540.00,248.58 L540.25,254.99 L540.50,259.98 L540.75,263.70 L541.00,266.36 L541.25,268.19 L541.50,269.42 L541.75,270.24 L542.00,270.78 L542.25,271.14 L542.50,271.41 L542.75,271.61 L543.00,271.76 L543.25,271.89 L543.50,272.00 L543.75,272.10 L544.00,272.19 L544.25,272.26 L544.50,272.33 L544.75,272.43 L545.00,272.63 L545.25,272.82 L545.50,273.02 L545.75,273.21 L546.00,273.39 L546.25,273.59 L546.50,273.78 L546.75,273.98 L547.00,274.17 L547.25,274.36 L547.50,274.54 L547.75,274.72 L548.00,274.80 L548.25,274.84 L548.50,274.88 L548.75,274.93 L549.00,274.97 L549.25,275.00 L549.50,275.04 L549.75,275.08 L550.00,275.11 L550.25,275.15 L550.50,275.18 L550.75,275.21 L551.00,275.24 L551.25,275.27 L551.50,275.30 L551.75,275.33 L552.00,275.36 L552.25,275.39 L552.50,275.41 L552.75,275.43 L553.00,275.45 L553.25,275.47 L553.50,275.50 L553.75,275.52 L554.00,275.54 L554.25,275.56 L554.50,275.58 L554.75,275.67 L555.00,276.00 L555.25,276.33 L555.50,276.67 L555.75,277.00 L556.00,277.20 L556.25,277.20 L556.50,277.20 L556.75,277.20 L557.00,277.20 L557.25,277.20 L557.50,277.20 L557.75,277.20 L558.00,277.20 L558.25,277.20 L558.50,277.20 L558.75,277.20 L559.00,277.20 L559.25,277.20 L559.50,277.20 L559.75,277.20 L560.00,277.20 L560.25,277.20 L560.50,277.20 L560.75,277.20 L561.00,277.20 L561.25,277.20 L561.50,277.20 L561.75,277.20 L562.00,277.20 L562.25,277.20 L562.50,277.20 L562.75,277.20 L563.00,277.20 L563.25,277.20 L563.50,277.20 L563.75,277.20 L564.00,277.20 L564.25,277.20 L564.50,277.20 L564.75,277.35 L565.00,277.60 L565.25,277.85 L565.50,278.10 L565.75,278.35 L566.00,278.40 L566.25,278.40 L566.50,278.40" fill="none" stroke="#444" stroke-width="0.9" stroke-opacity="1" stroke-linejoin="round"/>
<path d="M68.00,279.00 L68.25,279.00 L68.50,279.00 L68.75,279.00 L69.00,279.00 L69.25,279.00 L69.50,279.00 L69.75,279.00 L70.00,279.00 L70.25,279.00 L70.50,279.00 L70.75,279.00 L71.00,279.00 L71.25,279.00 L71.50,279.00 L71.75,279.00 L72.00,279.00 L72.25,279.00 L72.50,279.00 L72.75,279.00 L73.00,279.00 L73.25,279.00 L73.50,279.00 L73.75,279.00 L74.00,279.00 L74.25,279.00 L74.50,279.00 L74.75,279.00 L75.00,279.00 L75.25,279.00 L75.50,279.00 L75.75,279.00 L76.00,279.00 L76.25,279.00 L76.50,279.00 L76.75,279.00 L77.00,279.00 L77.25,279.00 L77.50,279.00 L77.75,278.99 L78.00,278.99 L78.25,278.99 L78.50,278.99 L78.75,278.99 L79.00,278.98 L79.25,278.98 L79.50,278.98 L79.75,278.98 L80.00,278.97 L80.25,278.97 L80.50,278.97 L80.75,278.96 L81.00,278.96 L81.25,278.95 L81.50,278.95 L81.75,278.94 L82.00,278.93 L82.25,278.93 L82.50,278.92 L82.75,278.91 L83.00,278.90 L83.25,278.90 L83.50,278.89 L83.75,278.88 L84.00,278.88 L84.25,278.87 L84.50,278.86 L84.75,278.84 L85.00,278.83 L85.25,278.82 L85.50,278.80 L85.75,278.78 L86.00,278.76 L86.25,278.72 L86.50,278.68 L86.75,278.63 L87.00,278.56 L87.25,278.45 L87.50,278.30 L87.75,278.10 L88.00,277.81 L88.25,277.44 L88.50,276.95 L88.75,276.34 L89.00,275.61 L89.25,274.77 L89.50,273.85 L89.75,272.90 L90.00,271.99 L90.25,271.21 L90.50,270.65 L90.75,270.41 L91.00,270.51 L91.25,270.96 L91.50,271.66 L91.75,272.53 L92.00,273.47 L92.25,274.41 L92.50,275.28 L92.75,276.06 L93.00,276.72 L93.25,277.26 L93.50,277.68 L93.75,277.99 L94.00,278.23 L94.25,278.40 L94.50,278.52 L94.75,278.60 L95.00,278.66 L95.25,278.71 L95.50,278.74 L95.75,278.77 L96.00,278.79 L96.25,278.81 L96.50,278.83 L96.75,278.84 L97.00,278.85 L97.25,278.86 L97.50,278.87 L97.75,278.88 L98.00,278.89 L98.25,278.90 L98.50,278.90 L98.75,278.91 L99.00,278.92 L99.25,278.92 L99.50,278.93 L99.75,278.94 L100.00,278.94 L100.25,278.95 L100.50,278.96 L100.75,278.96 L101.00,278.96 L101.25,278.97 L101.50,278.97 L101.75,278.97 L102.00,278.98 L102.25,278.98 L102.50,278.98 L102.75,278.99 L103.00,278.99 L103.25,278.99 L103.50,278.99 L103.75,278.99 L104.00,279.00 L104.25,279.00 L104.50,279.00 L104.75,279.00 L105.00,279.00 L105.25,279.00 L105.50,279.00 L105.75,279.00 L106.00,279.00 L106.25,279.00 L106.50,279.00 L106.75,279.00 L107.00,279.00 L107.25,279.00 L107.50,279.00 L107.75,279.00 L108.00,279.00 L108.25,279.00 L108.50,279.00 L108.75,279.00 L109.00,279.00 L109.25,279.00 L109.50,279.00 L109.75,279.00 L110.00,279.00 L110.25,279.00 L110.50,279.00 L110.75,279.00 L111.00,279.00 L111.25,279.00 L111.50,279.00 L111.75,279.00 L112.00,279.00 L112.25,279.00 L112.50,279.00 L112.75,279.00 L113.00,279.00 L113.25,279.00 L113.50,279.00 L113.75,279.00 L114.00,279.00 L114.25,279.00 L114.50,279.00 L114.75,279.00 L115.00,279.00 L115.25,279.00 L115.50,279.00 L115.75,279.00 L116.00,279.00 L116.25,279.00 L116.50,279.00 L116.75,279.00 L117.00,279.00 L117.25,279.00 L117.50,279.00 L117.75,279.00 L118.00,279.00 L118.25,279.00 L118.50,279.00 L118.75,279.00 L119.00,279.00 L119.25,279.00 L119.50,279.00 L119.75,279.00 L120.00,279.00 L120.25,279.00 L120.50,279.00 L120.75,279.00 L121.00,279.00 L121.25,279.00 L121.50,279.00 L121.75,279.00 L122.00,279.00 L122.25,279.00 L122.50,279.00 L122.75,279.00 L123.00,279.00 L123.25,279.00 L123.50,279.00 L123.75,279.00 L124.00,279.00 L124.25,279.00 L124.50,279.00 L124.75,279.00 L125.00,279.00 L125.25,279.00 L125.50,279.00 L125.75,279.00 L126.00,279.00 L126.25,279.00 L126.50,279.00 L126.75,279.00 L127.00,279.00 L127.25,279.00 L127.50,279.00 L127.75,279.00 L128.00,279.00" fill="none" stroke="#4a9a4a" stroke-width="0.85" stroke-opacity="1" stroke-linejoin="round"/>
<path d="M138.00,280.24 L138.25,280.21 L138.50,280.18 L138.75,280.14 L139.00,280.12 L139.25,280.10 L139.50,280.07 L139.75,280.04 L140.00,280.00 L140.25,279.97 L140.50,279.92 L140.75,279.87 L141.00,279.80 L141.25,279.72 L141.50,279.62 L141.75,279.49 L142.00,279.32 L142.25,279.10 L142.50,278.82 L142.75,278.45 L143.00,277.98 L143.25,277.39 L143.50,276.67 L143.75,275.78 L144.00,274.72 L144.25,273.50 L144.50,272.10 L144.75,270.56 L145.00,268.91 L145.25,267.19 L145.50,265.46 L145.75,263.82 L146.00,262.35 L146.25,261.16 L146.50,260.36 L146.75,260.01 L147.00,260.16 L147.25,260.79 L147.50,261.84 L147.75,263.21 L148.00,264.79 L148.25,266.49 L148.50,268.22 L148.75,269.91 L149.00,271.50 L149.25,272.96 L149.50,274.25 L149.75,275.38 L150.00,276.33 L150.25,277.12 L150.50,277.76 L150.75,278.28 L151.00,278.68 L151.25,279.00 L151.50,279.24 L151.75,279.43 L152.00,279.57 L152.25,279.68 L152.50,279.77 L152.75,279.84 L153.00,279.90 L153.25,279.95 L153.50,279.99 L153.75,280.03 L154.00,280.06 L154.25,280.08 L154.50,280.11 L154.75,280.13 L155.00,280.17 L155.25,280.20 L155.50,280.23 L155.75,280.25 L156.00,280.28 L156.25,280.30 L156.50,280.32 L156.75,280.34 L157.00,280.36 L157.25,280.37 L157.50,280.39 L157.75,280.40 L158.00,280.41 L158.25,280.42 L158.50,280.43 L158.75,280.44 L159.00,280.45 L159.25,280.46 L159.50,280.47 L159.75,280.47 L160.00,280.48 L160.25,280.49 L160.50,280.49 L160.75,280.50 L161.00,280.50 L161.25,280.50 L161.50,280.50 L161.75,280.50 L162.00,280.50 L162.25,280.50 L162.50,280.50 L162.75,280.50 L163.00,280.50 L163.25,280.50 L163.50,280.50 L163.75,280.50 L164.00,280.50 L164.25,280.50 L164.50,280.50 L164.75,280.50 L165.00,280.50 L165.25,280.50 L165.50,280.50 L165.75,280.50 L166.00,280.50 L166.25,280.50 L166.50,280.50 L166.75,280.50 L167.00,280.50 L167.25,280.50 L167.50,280.50 L167.75,280.50 L168.00,280.50 L168.25,280.50 L168.50,280.50 L168.75,280.50 L169.00,280.50 L169.25,280.50 L169.50,280.50 L169.75,280.50 L170.00,280.50 L170.25,280.50 L170.50,280.50 L170.75,280.50 L171.00,280.50 L171.25,280.50 L171.50,280.50 L171.75,280.50 L172.00,280.50 L172.25,280.50 L172.50,280.50 L172.75,280.50 L173.00,280.50 L173.25,280.50 L173.50,280.50 L173.75,280.50 L174.00,280.50 L174.25,280.50 L174.50,280.50 L174.75,280.50 L175.00,280.50 L175.25,280.50 L175.50,280.50 L175.75,280.50 L176.00,280.50 L176.25,280.50 L176.50,280.50 L176.75,280.50 L177.00,280.50 L177.25,280.50 L177.50,280.50 L177.75,280.50 L178.00,280.50" fill="none" stroke="#c0c070" stroke-width="0.85" stroke-opacity="1" stroke-linejoin="round"/>
<path d="M66.00,280.50 L66.25,280.50 L66.50,280.50 L66.75,280.50 L67.00,280.50 L67.25,280.50 L67.50,280.50 L67.75,280.50 L68.00,280.50 L68.25,280.50 L68.50,280.50 L68.75,280.50 L69.00,280.50 L69.25,280.50 L69.50,280.50 L69.75,280.50 L70.00,280.50 L70.25,280.50 L70.50,280.50 L70.75,280.50 L71.00,280.50 L71.25,280.50 L71.50,280.50 L71.75,280.50 L72.00,280.50 L72.25,280.50 L72.50,280.50 L72.75,280.50 L73.00,280.50 L73.25,280.50 L73.50,280.50 L73.75,280.50 L74.00,280.50 L74.25,280.50 L74.50,280.50 L74.75,280.50 L75.00,280.50 L75.25,280.50 L75.50,280.50 L75.75,280.50 L76.00,280.50 L76.25,280.50 L76.50,280.50 L76.75,280.50 L77.00,280.50 L77.25,280.50 L77.50,280.50 L77.75,280.50 L78.00,280.49 L78.25,280.49 L78.50,280.49 L78.75,280.49 L79.00,280.49 L79.25,280.48 L79.50,280.48 L79.75,280.48 L80.00,280.48 L80.25,280.47 L80.50,280.47 L80.75,280.47 L81.00,280.46 L81.25,280.46 L81.50,280.45 L81.75,280.45 L82.00,280.44 L82.25,280.44 L82.50,280.43 L82.75,280.42 L83.00,280.42 L83.25,280.41 L83.50,280.40 L83.75,280.40 L84.00,280.39 L84.25,280.38 L84.50,280.37 L84.75,280.36 L85.00,280.35 L85.25,280.34 L85.50,280.32 L85.75,280.31 L86.00,280.29 L86.25,280.26 L86.50,280.23 L86.75,280.19 L87.00,280.14 L87.25,280.06 L87.50,279.95 L87.75,279.79 L88.00,279.56 L88.25,279.24 L88.50,278.80 L88.75,278.22 L89.00,277.49 L89.25,276.63 L89.50,275.64 L89.75,274.60 L90.00,273.57 L90.25,272.66 L90.50,272.00 L90.75,271.71 L91.00,271.84 L91.25,272.36 L91.50,273.18 L91.75,274.18 L92.00,275.23 L92.25,276.25 L92.50,277.16 L92.75,277.95 L93.00,278.58 L93.25,279.07 L93.50,279.44 L93.75,279.71 L94.00,279.89 L94.25,280.02 L94.50,280.11 L94.75,280.17 L95.00,280.22 L95.25,280.25 L95.50,280.28 L95.75,280.30 L96.00,280.32 L96.25,280.33 L96.50,280.35 L96.75,280.36 L97.00,280.37 L97.25,280.38 L97.50,280.39 L97.75,280.40 L98.00,280.40 L98.25,280.41 L98.50,280.41 L98.75,280.42 L99.00,280.43 L99.25,280.43 L99.50,280.44 L99.75,280.45 L100.00,280.45 L100.25,280.46 L100.50,280.46 L100.75,280.46 L101.00,280.47 L101.25,280.47 L101.50,280.48 L101.75,280.48 L102.00,280.48 L102.25,280.48 L102.50,280.49 L102.75,280.49 L103.00,280.49 L103.25,280.49 L103.50,280.49 L103.75,280.49 L104.00,280.50 L104.25,280.50 L104.50,280.50 L104.75,280.50 L105.00,280.50 L105.25,280.50 L105.50,280.50 L105.75,280.50 L106.00,280.50 L106.25,280.50 L106.50,280.50 L106.75,280.50 L107.00,280.50 L107.25,280.50 L107.50,280.50 L107.75,280.50 L108.00,280.50 L108.25,280.50 L108.50,280.50 L108.75,280.50 L109.00,280.50 L109.25,280.50 L109.50,280.50 L109.75,280.50 L110.00,280.50 L110.25,280.50 L110.50,280.50 L110.75,280.50 L111.00,280.50 L111.25,280.50 L111.50,280.50 L111.75,280.50 L112.00,280.50 L112.25,280.50 L112.50,280.50 L112.75,280.50 L113.00,280.50 L113.25,280.50 L113.50,280.50 L113.75,280.50 L114.00,280.50 L114.25,280.50 L114.50,280.50 L114.75,280.50 L115.00,280.50 L115.25,280.50 L115.50,280.50 L115.75,280.50 L116.00,280.50 L116.25,280.50 L116.50,280.50 L116.75,280.50 L117.00,280.50 L117.25,280.50 L117.50,280.50 L117.75,280.50 L118.00,280.50 L118.25,280.50 L118.50,280.50 L118.75,280.50 L119.00,280.50 L119.25,280.50 L119.50,280.50 L119.75,280.50 L120.00,280.50 L120.25,280.50 L120.50,280.49 L120.75,280.49 L121.00,280.49 L121.25,280.49 L121.50,280.48 L121.75,280.48 L122.00,280.48 L122.25,280.47 L122.50,280.47 L122.75,280.46 L123.00,280.46 L123.25,280.45 L123.50,280.45 L123.75,280.44 L124.00,280.44 L124.25,280.43 L124.50,280.42 L124.75,280.41 L125.00,280.40 L125.25,280.39 L125.50,280.38 L125.75,280.37 L126.00,280.36 L126.25,280.35 L126.50,280.34 L126.75,280.33 L127.00,280.31 L127.25,280.30 L127.50,280.28 L127.75,280.27 L128.00,280.25 L128.25,280.23 L128.50,280.20 L128.75,280.17 L129.00,280.14 L129.25,280.10 L129.50,280.04 L129.75,279.98 L130.00,279.88 L130.25,279.75 L130.50,279.56 L130.75,279.29 L131.00,278.90 L131.25,278.34 L131.50,277.59 L131.75,276.61 L132.00,275.38 L132.25,273.90 L132.50,272.22 L132.75,270.44 L133.00,268.68 L133.25,267.14 L133.50,266.02 L133.75,265.51 L134.00,265.73 L134.25,266.63 L134.50,268.03 L134.75,269.73 L135.00,271.52 L135.25,273.25 L135.50,274.81 L135.75,276.15 L136.00,277.23 L136.25,278.07 L136.50,278.70 L136.75,279.15 L137.00,279.47 L137.25,279.69 L137.50,279.84 L137.75,279.94 L138.00,280.02 L138.25,280.08 L138.50,280.12 L138.75,280.16 L139.00,280.19 L139.25,280.22 L139.50,280.24 L139.75,280.26 L140.00,280.28 L140.25,280.29 L140.50,280.31 L140.75,280.32 L141.00,280.33 L141.25,280.34 L141.50,280.35 L141.75,280.36 L142.00,280.37 L142.25,280.39 L142.50,280.40 L142.75,280.41 L143.00,280.42 L143.25,280.43 L143.50,280.43 L143.75,280.44 L144.00,280.45 L144.25,280.45 L144.50,280.46 L144.75,280.46 L145.00,280.47 L145.25,280.47 L145.50,280.48 L145.75,280.48 L146.00,280.48 L146.25,280.49 L146.50,280.49 L146.75,280.49 L147.00,280.49 L147.25,280.50 L147.50,280.50 L147.75,280.50 L148.00,280.50 L148.25,280.50 L148.50,280.50 L148.75,280.50 L149.00,280.50 L149.25,280.50 L149.50,280.50 L149.75,280.50 L150.00,280.50 L150.25,280.50 L150.50,280.50 L150.75,280.50 L151.00,280.50 L151.25,280.50 L151.50,280.50 L151.75,280.50 L152.00,280.50 L152.25,280.50 L152.50,280.50 L152.75,280.50 L153.00,280.50 L153.25,280.50 L153.50,280.50 L153.75,280.50 L154.00,280.50 L154.25,280.50 L154.50,280.50 L154.75,280.50 L155.00,280.50 L155.25,280.50 L155.50,280.50 L155.75,280.50 L156.00,280.50 L156.25,280.50 L156.50,280.50 L156.75,280.50 L157.00,280.50 L157.25,280.50 L157.50,280.50 L157.75,280.50 L158.00,280.50 L158.25,280.50 L158.50,280.50 L158.75,280.50 L159.00,280.50 L159.25,280.50 L159.50,280.50 L159.75,280.50 L160.00,280.50 L160.25,280.50 L160.50,280.50 L160.75,280.50 L161.00,280.50 L161.25,280.50 L161.50,280.50 L161.75,280.50 L162.00,280.50 L162.25,280.50 L162.50,280.50 L162.75,280.50 L163.00,280.50 L163.25,280.50 L163.50,280.50 L163.75,280.50 L164.00,280.50 L164.25,280.50 L164.50,280.50 L164.75,280.50 L165.00,280.50 L165.25,280.50 L165.50,280.50 L165.75,280.50 L166.00,280.50" fill="none" stroke="#3b3bff" stroke-width="0.85" stroke-opacity="1" stroke-linejoin="round"/>
<path d="M191.00,280.00 L191.25,280.00 L191.50,280.00 L191.75,280.00 L192.00,280.00 L192.25,280.00 L192.50,280.00 L192.75,280.00 L193.00,280.00 L193.25,280.00 L193.50,280.00 L193.75,280.00 L194.00,280.00 L194.25,280.00 L194.50,280.00 L194.75,280.00 L195.00,280.00 L195.25,280.00 L195.50,280.00 L195.75,280.00 L196.00,280.00 L196.25,280.00 L196.50,280.00 L196.75,280.00 L197.00,280.00 L197.25,280.00 L197.50,280.00 L197.75,280.00 L198.00,280.00 L198.25,280.00 L198.50,280.00 L198.75,280.00 L199.00,279.99 L199.25,279.99 L199.50,279.99 L199.75,279.98 L200.00,279.98 L200.25,279.97 L200.50,279.97 L200.75,279.96 L201.00,279.95 L201.25,279.95 L201.50,279.94 L201.75,279.93 L202.00,279.92 L202.25,279.91 L202.50,279.90 L202.75,279.89 L203.00,279.88 L203.25,279.87 L203.50,279.85 L203.75,279.84 L204.00,279.82 L204.25,279.80 L204.50,279.78 L204.75,279.76 L205.00,279.75 L205.25,279.73 L205.50,279.71 L205.75,279.69 L206.00,279.67 L206.25,279.64 L206.50,279.61 L206.75,279.58 L207.00,279.54 L207.25,279.50 L207.50,279.45 L207.75,279.40 L208.00,279.33 L208.25,279.25 L208.50,279.15 L208.75,279.01 L209.00,278.82 L209.25,278.55 L209.50,278.14 L209.75,277.53 L210.00,276.62 L210.25,275.33 L210.50,273.54 L210.75,271.19 L211.00,268.27 L211.25,264.85 L211.50,261.12 L211.75,257.40 L212.00,254.12 L212.25,251.83 L212.50,251.00 L212.75,251.83 L213.00,254.12 L213.25,257.40 L213.50,261.12 L213.75,264.85 L214.00,268.27 L214.25,271.19 L214.50,273.54 L214.75,275.33 L215.00,276.62 L215.25,277.53 L215.50,278.14 L215.75,278.55 L216.00,278.82 L216.25,279.01 L216.50,279.15 L216.75,279.25 L217.00,279.33 L217.25,279.40 L217.50,279.45 L217.75,279.50 L218.00,279.54 L218.25,279.58 L218.50,279.61 L218.75,279.64 L219.00,279.67 L219.25,279.69 L219.50,279.71 L219.75,279.73 L220.00,279.75 L220.25,279.76 L220.50,279.78 L220.75,279.80 L221.00,279.82 L221.25,279.84 L221.50,279.85 L221.75,279.87 L222.00,279.88 L222.25,279.89 L222.50,279.90 L222.75,279.91 L223.00,279.92 L223.25,279.93 L223.50,279.94 L223.75,279.95 L224.00,279.95 L224.25,279.96 L224.50,279.97 L224.75,279.97 L225.00,279.98 L225.25,279.98 L225.50,279.99 L225.75,279.99 L226.00,279.99 L226.25,280.00 L226.50,280.00 L226.75,280.00 L227.00,280.00 L227.25,280.00 L227.50,280.00 L227.75,280.00 L228.00,280.00 L228.25,280.00 L228.50,280.00 L228.75,280.00 L229.00,280.00 L229.25,280.00 L229.50,280.00 L229.75,280.00 L230.00,280.00 L230.25,280.00 L230.50,280.00 L230.75,280.00 L231.00,280.00 L231.25,280.00 L231.50,280.00 L231.75,280.00 L232.00,280.00 L232.25,280.00 L232.50,280.00 L232.75,280.00 L233.00,280.00 L233.25,280.00 L233.50,280.00 L233.75,280.00 L234.00,280.00 L234.25,280.00 L234.50,280.00 L234.75,280.00 L235.00,280.00 L235.25,280.00 L235.50,280.00 L235.75,280.00 L236.00,280.00 L236.25,280.00 L236.50,280.00 L236.75,280.00 L237.00,280.00 L237.25,280.00 L237.50,280.00 L237.75,280.00 L238.00,280.00 L238.25,280.00 L238.50,280.00 L238.75,280.00 L239.00,280.00 L239.25,280.00 L239.50,280.00 L239.75,280.00 L240.00,280.00 L240.25,280.00 L240.50,280.00 L240.75,280.00 L241.00,280.00 L241.25,280.00 L241.50,280.00 L241.75,280.00 L242.00,280.00" fill="none" stroke="#ff3030" stroke-width="0.85" stroke-opacity="1" stroke-linejoin="round"/>
<path d="M266.00,280.00 L266.25,280.00 L266.50,280.00 L266.75,280.00 L267.00,280.00 L267.25,280.00 L267.50,280.00 L267.75,280.00 L268.00,280.00 L268.25,280.00 L268.50,280.00 L268.75,280.00 L269.00,280.00 L269.25,279.99 L269.50,279.98 L269.75,279.97 L270.00,279.97 L270.25,279.96 L270.50,279.95 L270.75,279.94 L271.00,279.92 L271.25,279.91 L271.50,279.90 L271.75,279.88 L272.00,279.87 L272.25,279.85 L272.50,279.83 L272.75,279.81 L273.00,279.79 L273.25,279.76 L273.50,279.74 L273.75,279.71 L274.00,279.67 L274.25,279.64 L274.50,279.60 L274.75,279.56 L275.00,279.52 L275.25,279.49 L275.50,279.45 L275.75,279.42 L276.00,279.38 L276.25,279.33 L276.50,279.28 L276.75,279.22 L277.00,279.15 L277.25,279.07 L277.50,278.98 L277.75,278.85 L278.00,278.69 L278.25,278.46 L278.50,278.15 L278.75,277.72 L279.00,277.10 L279.25,276.24 L279.50,275.06 L279.75,273.47 L280.00,271.37 L280.25,268.70 L280.50,265.39 L280.75,261.43 L281.00,256.87 L281.25,251.81 L281.50,246.44 L281.75,241.03 L282.00,235.92 L282.25,231.50 L282.50,228.17 L282.75,226.31 L283.00,226.14 L283.25,227.68 L283.50,230.73 L283.75,234.97 L284.00,239.97 L284.25,245.35 L284.50,250.75 L284.75,255.89 L285.00,260.57 L285.25,264.65 L285.50,268.09 L285.75,270.89 L286.00,273.09 L286.25,274.78 L286.50,276.04 L286.75,276.95 L287.00,277.61 L287.25,278.08 L287.50,278.41 L287.75,278.65 L288.00,278.82 L288.25,278.95 L288.50,279.06 L288.75,279.14 L289.00,279.21 L289.25,279.27 L289.50,279.32 L289.75,279.37 L290.00,279.41 L290.25,279.45 L290.50,279.48 L290.75,279.51 L291.00,279.55 L291.25,279.59 L291.50,279.63 L291.75,279.67 L292.00,279.70 L292.25,279.73 L292.50,279.76 L292.75,279.78 L293.00,279.80 L293.25,279.83 L293.50,279.85 L293.75,279.86 L294.00,279.88 L294.25,279.89 L294.50,279.91 L294.75,279.92 L295.00,279.93 L295.25,279.94 L295.50,279.95 L295.75,279.96 L296.00,279.97 L296.25,279.98 L296.50,279.99 L296.75,280.00 L297.00,280.00 L297.25,280.00 L297.50,280.00 L297.75,280.00 L298.00,280.00 L298.25,280.00 L298.50,280.00 L298.75,280.00 L299.00,280.00 L299.25,280.00 L299.50,280.00 L299.75,280.00 L300.00,280.00" fill="none" stroke="#50acac" stroke-width="0.85" stroke-opacity="1" stroke-linejoin="round"/>
<path d="M280.00,279.86 L280.25,279.85 L280.50,279.83 L280.75,279.81 L281.00,279.79 L281.25,279.77 L281.50,279.74 L281.75,279.71 L282.00,279.68 L282.25,279.66 L282.50,279.64 L282.75,279.62 L283.00,279.59 L283.25,279.56 L283.50,279.53 L283.75,279.49 L284.00,279.45 L284.25,279.40 L284.50,279.35 L284.75,279.28 L285.00,279.20 L285.25,279.10 L285.50,278.97 L285.75,278.80 L286.00,278.56 L286.25,278.23 L286.50,277.78 L286.75,277.17 L287.00,276.36 L287.25,275.29 L287.50,273.94 L287.75,272.27 L288.00,270.28 L288.25,268.00 L288.50,265.48 L288.75,262.83 L289.00,260.20 L289.25,257.77 L289.50,255.78 L289.75,254.46 L290.00,254.00 L290.25,254.46 L290.50,255.78 L290.75,257.77 L291.00,260.20 L291.25,262.83 L291.50,265.48 L291.75,268.00 L292.00,270.28 L292.25,272.27 L292.50,273.94 L292.75,275.29 L293.00,276.36 L293.25,277.17 L293.50,277.78 L293.75,278.23 L294.00,278.56 L294.25,278.80 L294.50,278.97 L294.75,279.10 L295.00,279.20 L295.25,279.28 L295.50,279.35 L295.75,279.40 L296.00,279.45 L296.25,279.49 L296.50,279.53 L296.75,279.56 L297.00,279.59 L297.25,279.62 L297.50,279.64 L297.75,279.66 L298.00,279.68 L298.25,279.71 L298.50,279.74 L298.75,279.77 L299.00,279.79 L299.25,279.81 L299.50,279.83 L299.75,279.85 L300.00,279.86 L300.25,279.88 L300.50,279.89 L300.75,279.90 L301.00,279.91 L301.25,279.92 L301.50,279.93 L301.75,279.94 L302.00,279.95 L302.25,279.96 L302.50,279.97 L302.75,279.97 L303.00,279.98 L303.25,279.99 L303.50,279.99 L303.75,280.00 L304.00,280.00 L304.25,280.00 L304.50,280.00 L304.75,280.00 L305.00,280.00 L305.25,280.00 L305.50,280.00 L305.75,280.00 L306.00,280.00 L306.25,280.00 L306.50,280.00 L306.75,280.00 L307.00,280.00 L307.25,280.00 L307.50,280.00 L307.75,280.00 L308.00,280.00 L308.25,280.00 L308.50,280.00 L308.75,280.00 L309.00,280.00 L309.25,280.00 L309.50,280.00 L309.75,280.00 L310.00,280.00 L310.25,280.00 L310.50,280.00 L310.75,280.00 L311.00,280.00 L311.25,280.00 L311.50,280.00 L311.75,280.00 L312.00,280.00" fill="none" stroke="#e08080" stroke-width="0.85" stroke-opacity="1" stroke-linejoin="round"/>
<path d="M312.00,280.00 L312.25,280.00 L312.50,280.00 L312.75,280.00 L313.00,280.00 L313.25,280.00 L313.50,280.00 L313.75,280.00 L314.00,280.00 L314.25,280.00 L314.50,280.00 L314.75,280.00 L315.00,280.00 L315.25,280.00 L315.50,280.00 L315.75,280.00 L316.00,280.00 L316.25,280.00 L316.50,280.00 L316.75,280.00 L317.00,280.00 L317.25,280.00 L317.50,280.00 L317.75,280.00 L318.00,280.00 L318.25,280.00 L318.50,280.00 L318.75,280.00 L319.00,280.00 L319.25,280.00 L319.50,280.00 L319.75,280.00 L320.00,280.00 L320.25,280.00 L320.50,280.00 L320.75,280.00 L321.00,280.00 L321.25,280.00 L321.50,280.00 L321.75,280.00 L322.00,280.00 L322.25,280.00 L322.50,280.00 L322.75,280.00 L323.00,280.00 L323.25,280.00 L323.50,280.00 L323.75,280.00 L324.00,280.00 L324.25,280.00 L324.50,280.00 L324.75,280.00 L325.00,280.00 L325.25,280.00 L325.50,280.00 L325.75,280.00 L326.00,280.00 L326.25,280.00 L326.50,280.00 L326.75,279.99 L327.00,279.99 L327.25,279.99 L327.50,279.99 L327.75,279.99 L328.00,279.98 L328.25,279.98 L328.50,279.98 L328.75,279.98 L329.00,279.97 L329.25,279.97 L329.50,279.97 L329.75,279.96 L330.00,279.96 L330.25,279.96 L330.50,279.95 L330.75,279.95 L331.00,279.94 L331.25,279.93 L331.50,279.93 L331.75,279.92 L332.00,279.92 L332.25,279.91 L332.50,279.90 L332.75,279.90 L333.00,279.89 L333.25,279.88 L333.50,279.87 L333.75,279.85 L334.00,279.83 L334.25,279.80 L334.50,279.75 L334.75,279.67 L335.00,279.54 L335.25,279.31 L335.50,278.94 L335.75,278.36 L336.00,277.46 L336.25,276.12 L336.50,274.19 L336.75,271.53 L337.00,268.00 L337.25,263.50 L337.50,258.04 L337.75,251.69 L338.00,244.69 L338.25,237.40 L338.50,230.30 L338.75,223.94 L339.00,218.89 L339.25,215.63 L339.50,214.50 L339.75,215.63 L340.00,218.89 L340.25,223.94 L340.50,230.30 L340.75,237.40 L341.00,244.69 L341.25,251.69 L341.50,258.04 L341.75,263.50 L342.00,268.00 L342.25,271.53 L342.50,274.19 L342.75,276.12 L343.00,277.46 L343.25,278.36 L343.50,278.94 L343.75,279.26 L344.00,279.35 L344.25,279.44 L344.50,279.51 L344.75,279.57 L345.00,279.63 L345.25,279.68 L345.50,279.72 L345.75,279.76 L346.00,279.79 L346.25,279.82 L346.50,279.84 L346.75,279.86 L347.00,279.88 L347.25,279.89 L347.50,279.91 L347.75,279.92 L348.00,279.94 L348.25,279.95 L348.50,279.95 L348.75,279.96 L349.00,279.96 L349.25,279.96 L349.50,279.97 L349.75,279.97 L350.00,279.97 L350.25,279.98 L350.50,279.98 L350.75,279.98 L351.00,279.98 L351.25,279.99 L351.50,279.99 L351.75,279.99 L352.00,279.99 L352.25,279.99 L352.50,280.00 L352.75,280.00 L353.00,280.00 L353.25,280.00 L353.50,280.00 L353.75,280.00 L354.00,280.00 L354.25,280.00 L354.50,280.00 L354.75,280.00 L355.00,280.00 L355.25,280.00 L355.50,280.00 L355.75,280.00 L356.00,280.00 L356.25,280.00 L356.50,280.00 L356.75,280.00 L357.00,280.00 L357.25,280.00 L357.50,280.00 L357.75,280.00 L358.00,280.00 L358.25,280.00 L358.50,280.00 L358.75,280.00 L359.00,280.00 L359.25,280.00 L359.50,280.00 L359.75,280.00 L360.00,280.00 L360.25,280.00 L360.50,280.00 L360.75,280.00 L361.00,280.00 L361.25,280.00 L361.50,280.00 L361.75,280.00 L362.00,280.00 L362.25,280.00 L362.50,280.00 L362.75,280.00 L363.00,280.00 L363.25,280.00 L363.50,280.00 L363.75,280.00 L364.00,280.00 L364.25,280.00 L364.50,280.00 L364.75,280.00 L365.00,280.00 L365.25,280.00 L365.50,280.00 L365.75,280.00 L366.00,280.00 L366.25,280.00 L366.50,280.00 L366.75,280.00 L367.00,280.00 L367.25,280.00 L367.50,280.00 L367.75,280.00 L368.00,280.00 L368.25,280.00 L368.50,280.00 L368.75,280.00 L369.00,280.00 L369.25,280.00 L369.50,280.00 L369.75,280.00 L370.00,280.00 L370.25,280.00 L370.50,280.00 L370.75,280.00 L371.00,280.00 L371.25,280.00 L371.50,280.00 L371.75,280.00 L372.00,280.00 L372.25,280.00 L372.50,280.00 L372.75,280.00 L373.00,280.00 L373.25,280.00 L373.50,280.00 L373.75,280.00 L374.00,280.00 L374.25,280.00 L374.50,280.00 L374.75,280.00 L375.00,280.00 L375.25,280.00 L375.50,280.00 L375.75,280.00 L376.00,280.00 L376.25,280.00 L376.50,280.00 L376.75,280.00 L377.00,280.00 L377.25,280.00 L377.50,280.00 L377.75,280.00 L378.00,280.00 L378.25,280.00 L378.50,280.00 L378.75,280.00 L379.00,280.00 L379.25,280.00 L379.50,280.00 L379.75,280.00 L380.00,280.00" fill="none" stroke="#ff3030" stroke-width="0.85" stroke-opacity="1" stroke-linejoin="round"/>
<path d="M380.00,279.26 L380.25,279.21 L380.50,279.14 L380.75,279.07 L381.00,278.99 L381.25,278.90 L381.50,278.79 L381.75,278.67 L382.00,278.51 L382.25,278.30 L382.50,278.02 L382.75,277.61 L383.00,277.01 L383.25,276.10 L383.50,274.72 L383.75,272.68 L384.00,269.74 L384.25,265.66 L384.50,260.23 L384.75,253.33 L385.00,245.01 L385.25,235.53 L385.50,225.39 L385.75,215.37 L386.00,206.46 L386.25,199.77 L386.50,196.32 L386.75,196.71 L387.00,200.88 L387.25,208.10 L387.50,217.32 L387.75,227.44 L388.00,237.50 L388.25,246.78 L388.50,254.83 L388.75,261.43 L389.00,266.58 L389.25,270.41 L389.50,273.15 L389.75,275.04 L390.00,276.31 L390.25,277.15 L390.50,277.71 L390.75,278.09 L391.00,278.35 L391.25,278.54 L391.50,278.69 L391.75,278.82 L392.00,278.92 L392.25,279.01 L392.50,279.09 L392.75,279.16 L393.00,279.22 L393.25,279.27 L393.50,279.32 L393.75,279.37 L394.00,279.41 L394.25,279.45 L394.50,279.48 L394.75,279.52 L395.00,279.57 L395.25,279.61 L395.50,279.65 L395.75,279.68 L396.00,279.72 L396.25,279.74 L396.50,279.77 L396.75,279.80 L397.00,279.82 L397.25,279.84 L397.50,279.86 L397.75,279.87 L398.00,279.89 L398.25,279.90 L398.50,279.92 L398.75,279.93 L399.00,279.94 L399.25,279.95 L399.50,279.96 L399.75,279.97 L400.00,279.98 L400.25,279.99 L400.50,280.00 L400.75,280.00 L401.00,280.00 L401.25,280.00 L401.50,280.00 L401.75,280.00 L402.00,280.00 L402.25,280.00 L402.50,280.00 L402.75,280.00 L403.00,280.00 L403.25,280.00 L403.50,280.00 L403.75,280.00 L404.00,280.00 L404.25,280.00 L404.50,280.00 L404.75,280.00 L405.00,280.00 L405.25,280.00 L405.50,280.00 L405.75,280.00 L406.00,280.00 L406.25,280.00 L406.50,280.00 L406.75,280.00 L407.00,280.00 L407.25,280.00 L407.50,280.00 L407.75,280.00 L408.00,280.00 L408.25,280.00 L408.50,280.00 L408.75,280.00 L409.00,280.00 L409.25,280.00 L409.50,280.00 L409.75,280.00 L410.00,280.00 L410.25,280.00 L410.50,280.00 L410.75,280.00 L411.00,280.00 L411.25,280.00 L411.50,280.00 L411.75,280.00 L412.00,280.00 L412.25,280.00 L412.50,280.00 L412.75,280.00 L413.00,280.00 L413.25,280.00 L413.50,280.00 L413.75,280.00 L414.00,280.00 L414.25,280.00 L414.50,280.00 L414.75,280.00 L415.00,280.00 L415.25,280.00 L415.50,280.00 L415.75,280.00 L416.00,280.00 L416.25,280.00 L416.50,280.00 L416.75,280.00 L417.00,280.00 L417.25,280.00 L417.50,280.00 L417.75,280.00 L418.00,280.00 L418.25,280.00 L418.50,280.00 L418.75,280.00 L419.00,280.00 L419.25,280.00 L419.50,280.00 L419.75,280.00 L420.00,280.00 L420.25,280.00 L420.50,280.00 L420.75,280.00 L421.00,280.00" fill="none" stroke="#ff3030" stroke-width="0.85" stroke-opacity="1" stroke-linejoin="round"/>
<path d="M383.50,279.44 L383.75,279.37 L384.00,279.27 L384.25,279.14 L384.50,278.94 L384.75,278.64 L385.00,278.18 L385.25,277.46 L385.50,276.38 L385.75,274.83 L386.00,272.71 L386.25,270.01 L386.50,266.82 L386.75,263.36 L387.00,260.00 L387.25,257.30 L387.50,255.84 L387.75,256.01 L388.00,257.76 L388.25,260.64 L388.50,264.05 L388.75,267.49 L389.00,270.60 L389.25,273.18 L389.50,275.18 L389.75,276.63 L390.00,277.63 L390.25,278.29 L390.50,278.71 L390.75,278.99 L391.00,279.17 L391.25,279.29 L391.50,279.38 L391.75,279.45 L392.00,279.51" fill="none" stroke="#40a8a8" stroke-width="0.85" stroke-opacity="1" stroke-linejoin="round"/>
<path d="M418.00,279.06 L418.25,278.99 L418.50,278.91 L418.75,278.83 L419.00,278.73 L419.25,278.62 L419.50,278.50 L419.75,278.34 L420.00,278.16 L420.25,277.91 L420.50,277.58 L420.75,277.09 L421.00,276.37 L421.25,275.26 L421.50,273.56 L421.75,271.02 L422.00,267.28 L422.25,261.97 L422.50,254.72 L422.75,245.22 L423.00,233.34 L423.25,219.21 L423.50,203.29 L423.75,186.42 L424.00,169.83 L424.25,155.00 L424.50,143.59 L424.75,137.10 L425.00,136.49 L425.25,141.86 L425.50,152.40 L425.75,166.67 L426.00,183.04 L426.25,199.96 L426.50,216.15 L426.75,230.69 L427.00,243.04 L427.25,253.01 L427.50,260.69 L427.75,266.35 L428.00,270.37 L428.25,273.13 L428.50,274.97 L428.75,276.18 L429.00,276.97 L429.25,277.49 L429.50,277.85 L429.75,278.11 L430.00,278.31 L430.25,278.47 L430.50,278.60 L430.75,278.71 L431.00,278.81 L431.25,278.90 L431.50,278.98 L431.75,279.05 L432.00,279.11 L432.25,279.17 L432.50,279.22 L432.75,279.27 L433.00,279.32 L433.25,279.39 L433.50,279.45 L433.75,279.50 L434.00,279.55 L434.25,279.60 L434.50,279.64 L434.75,279.67 L435.00,279.71 L435.25,279.74 L435.50,279.77 L435.75,279.80 L436.00,279.82 L436.25,279.84 L436.50,279.86 L436.75,279.88 L437.00,279.90 L437.25,279.92 L437.50,279.93 L437.75,279.95 L438.00,279.96 L438.25,279.97 L438.50,279.98 L438.75,279.99 L439.00,280.00 L439.25,280.00 L439.50,280.00 L439.75,280.00 L440.00,280.00 L440.25,280.00 L440.50,280.00 L440.75,280.00 L441.00,280.00 L441.25,280.00 L441.50,280.00 L441.75,280.00 L442.00,280.00 L442.25,280.00 L442.50,280.00 L442.75,280.00 L443.00,280.00 L443.25,280.00 L443.50,280.00 L443.75,280.00 L444.00,280.00 L444.25,280.00 L444.50,280.00 L444.75,280.00 L445.00,280.00 L445.25,280.00 L445.50,280.00 L445.75,280.00 L446.00,280.00 L446.25,280.00 L446.50,280.00 L446.75,280.00 L447.00,280.00 L447.25,280.00 L447.50,280.00 L447.75,280.00 L448.00,280.00 L448.25,280.00 L448.50,280.00 L448.75,280.00 L449.00,280.00 L449.25,280.00 L449.50,280.00 L449.75,280.00 L450.00,280.00 L450.25,280.00 L450.50,280.00 L450.75,280.00 L451.00,280.00 L451.25,280.00 L451.50,280.00 L451.75,280.00 L452.00,280.00 L452.25,280.00 L452.50,280.00 L452.75,280.00 L453.00,280.00 L453.25,280.00 L453.50,280.00 L453.75,280.00 L454.00,280.00 L454.25,280.00 L454.50,280.00 L454.75,280.00 L455.00,280.00 L455.25,280.00 L455.50,280.00 L455.75,280.00 L456.00,280.00 L456.25,280.00 L456.50,280.00 L456.75,280.00 L457.00,280.00 L457.25,280.00 L457.50,280.00 L457.75,280.00 L458.00,280.00 L458.25,280.00 L458.50,280.00 L458.75,280.00 L459.00,280.00 L459.25,280.00 L459.50,280.00 L459.75,280.00 L460.00,280.00 L460.25,280.00 L460.50,280.00 L460.75,280.00 L461.00,280.00 L461.25,280.00 L461.50,280.00 L461.75,280.00 L462.00,280.00 L462.25,280.00 L462.50,280.00 L462.75,280.00 L463.00,280.00" fill="none" stroke="#2e8b2e" stroke-width="0.85" stroke-opacity="1" stroke-linejoin="round"/>
<path d="M450.00,279.62 L450.25,279.58 L450.50,279.53 L450.75,279.48 L451.00,279.44 L451.25,279.41 L451.50,279.37 L451.75,279.32 L452.00,279.28 L452.25,279.22 L452.50,279.16 L452.75,279.09 L453.00,279.02 L453.25,278.92 L453.50,278.81 L453.75,278.67 L454.00,278.47 L454.25,278.18 L454.50,277.74 L454.75,277.07 L455.00,276.02 L455.25,274.40 L455.50,271.96 L455.75,268.37 L456.00,263.28 L456.25,256.31 L456.50,247.17 L456.75,235.69 L457.00,221.94 L457.25,206.28 L457.50,189.40 L457.75,172.37 L458.00,156.51 L458.25,143.27 L458.50,134.10 L458.75,130.12 L459.00,131.84 L459.25,139.04 L459.50,150.81 L459.75,165.81 L460.00,182.54 L460.25,199.62 L460.50,215.87 L460.75,230.45 L461.00,242.86 L461.25,252.93 L461.50,260.73 L461.75,266.53 L462.00,270.68 L462.25,273.54 L462.50,275.46 L462.75,276.71 L463.00,277.51 L463.25,278.03 L463.50,278.28 L463.75,278.49 L464.00,278.66 L464.25,278.82 L464.50,278.96 L464.75,279.07 L465.00,279.14 L465.25,279.20 L465.50,279.26 L465.75,279.31 L466.00,279.35 L466.25,279.39 L466.50,279.43 L466.75,279.46 L467.00,279.51 L467.25,279.56 L467.50,279.60 L467.75,279.64 L468.00,279.68 L468.25,279.71 L468.50,279.74 L468.75,279.77 L469.00,279.79 L469.25,279.81 L469.50,279.83 L469.75,279.85 L470.00,279.87 L470.25,279.89 L470.50,279.90 L470.75,279.92 L471.00,279.93 L471.25,279.94 L471.50,279.95 L471.75,279.96 L472.00,279.97 L472.25,279.98 L472.50,279.99 L472.75,280.00 L473.00,280.00 L473.25,280.00 L473.50,280.00 L473.75,280.00 L474.00,280.00 L474.25,280.00 L474.50,280.00 L474.75,280.00 L475.00,280.00 L475.25,280.00 L475.50,280.00 L475.75,280.00 L476.00,280.00 L476.25,280.00 L476.50,280.00 L476.75,280.00 L477.00,280.00 L477.25,280.00 L477.50,280.00 L477.75,280.00 L478.00,280.00" fill="none" stroke="#c0c070" stroke-width="0.85" stroke-opacity="1" stroke-linejoin="round"/>
<path d="M475.00,279.95 L475.25,279.93 L475.50,279.92 L475.75,279.91 L476.00,279.89 L476.25,279.88 L476.50,279.86 L476.75,279.84 L477.00,279.82 L477.25,279.80 L477.50,279.78 L477.75,279.75 L478.00,279.72 L478.25,279.69 L478.50,279.66 L478.75,279.62 L479.00,279.58 L479.25,279.53 L479.50,279.48 L479.75,279.45 L480.00,279.42 L480.25,279.38 L480.50,279.33 L480.75,279.29 L481.00,279.23 L481.25,279.17 L481.50,279.10 L481.75,279.03 L482.00,278.93 L482.25,278.82 L482.50,278.67 L482.75,278.46 L483.00,278.16 L483.25,277.70 L483.50,276.98 L483.75,275.87 L484.00,274.15 L484.25,271.58 L484.50,267.82 L484.75,262.52 L485.00,255.34 L485.25,246.00 L485.50,234.37 L485.75,220.57 L486.00,205.02 L486.25,188.48 L486.50,172.02 L486.75,156.97 L487.00,144.78 L487.25,136.79 L487.50,134.00 L487.75,136.79 L488.00,144.78 L488.25,156.97 L488.50,172.02 L488.75,188.48 L489.00,205.02 L489.25,220.57 L489.50,234.37 L489.75,246.00 L490.00,255.34 L490.25,262.52 L490.50,267.82 L490.75,271.58 L491.00,274.15 L491.25,275.87 L491.50,276.98 L491.75,277.70 L492.00,278.15 L492.25,278.37 L492.50,278.56 L492.75,278.73 L493.00,278.88 L493.25,279.01 L493.50,279.10 L493.75,279.17 L494.00,279.23 L494.25,279.29 L494.50,279.33 L494.75,279.38 L495.00,279.42 L495.25,279.45 L495.50,279.48 L495.75,279.53 L496.00,279.58 L496.25,279.62 L496.50,279.66 L496.75,279.69 L497.00,279.72 L497.25,279.75 L497.50,279.78 L497.75,279.80 L498.00,279.82 L498.25,279.84 L498.50,279.86 L498.75,279.88 L499.00,279.89 L499.25,279.91 L499.50,279.92 L499.75,279.93 L500.00,279.95 L500.25,279.96 L500.50,279.97 L500.75,279.98 L501.00,279.98 L501.25,279.99 L501.50,280.00 L501.75,280.00 L502.00,280.00 L502.25,280.00 L502.50,280.00 L502.75,280.00 L503.00,280.00 L503.25,280.00 L503.50,280.00 L503.75,280.00 L504.00,280.00 L504.25,280.00 L504.50,280.00 L504.75,280.00 L505.00,280.00 L505.25,280.00 L505.50,280.00 L505.75,280.00 L506.00,280.00 L506.25,280.00 L506.50,280.00 L506.75,280.00 L507.00,280.00 L507.25,280.00 L507.50,280.00 L507.75,280.00 L508.00,280.00 L508.25,280.00 L508.50,280.00 L508.75,280.00 L509.00,280.00 L509.25,280.00 L509.50,280.00 L509.75,280.00 L510.00,280.00 L510.25,280.00 L510.50,280.00 L510.75,280.00 L511.00,280.00 L511.25,280.00 L511.50,280.00 L511.75,280.00 L512.00,280.00 L512.25,280.00 L512.50,280.00 L512.75,280.00 L513.00,280.00 L513.25,280.00 L513.50,280.00 L513.75,280.00 L514.00,280.00 L514.25,280.00 L514.50,280.00 L514.75,280.00 L515.00,280.00 L515.25,280.00 L515.50,280.00 L515.75,280.00 L516.00,280.00 L516.25,280.00 L516.50,280.00 L516.75,280.00 L517.00,280.00 L517.25,280.00 L517.50,280.00 L517.75,280.00 L518.00,280.00 L518.25,280.00 L518.50,280.00 L518.75,280.00 L519.00,280.00 L519.25,280.00 L519.50,280.00 L519.75,280.00 L520.00,280.00" fill="none" stroke="#c0c070" stroke-width="0.85" stroke-opacity="1" stroke-linejoin="round"/>
<path d="M520.00,280.00 L520.25,280.00 L520.50,280.00 L520.75,280.00 L521.00,280.00 L521.25,280.00 L521.50,280.00 L521.75,280.00 L522.00,280.00 L522.25,280.00 L522.50,280.00 L522.75,280.00 L523.00,280.00 L523.25,280.00 L523.50,280.00 L523.75,280.00 L524.00,280.00 L524.25,280.00 L524.50,279.99 L524.75,279.98 L525.00,279.97 L525.25,279.97 L525.50,279.95 L525.75,279.94 L526.00,279.93 L526.25,279.92 L526.50,279.91 L526.75,279.89 L527.00,279.88 L527.25,279.86 L527.50,279.84 L527.75,279.82 L528.00,279.80 L528.25,279.77 L528.50,279.75 L528.75,279.72 L529.00,279.69 L529.25,279.65 L529.50,279.61 L529.75,279.57 L530.00,279.53 L530.25,279.48 L530.50,279.45 L530.75,279.41 L531.00,279.37 L531.25,279.33 L531.50,279.28 L531.75,279.22 L532.00,279.16 L532.25,279.09 L532.50,279.02 L532.75,278.93 L533.00,278.83 L533.25,278.71 L533.50,278.56 L533.75,278.37 L534.00,278.12 L534.25,277.77 L534.50,277.25 L534.75,276.47 L535.00,275.28 L535.25,273.52 L535.50,270.94 L535.75,267.30 L536.00,262.37 L536.25,255.99 L536.50,248.13 L536.75,238.95 L537.00,228.88 L537.25,218.59 L537.50,208.99 L537.75,201.18 L538.00,196.27 L538.25,195.08 L538.50,197.83 L538.75,204.02 L539.00,212.68 L539.25,222.68 L539.50,232.98 L539.75,242.76 L540.00,251.44 L540.25,258.72 L540.50,264.51 L540.75,268.90 L541.00,272.08 L541.25,274.31 L541.50,275.82 L541.75,276.82 L542.00,277.48 L542.25,277.93 L542.50,278.23 L542.75,278.45 L543.00,278.62 L543.25,278.76 L543.50,278.87 L543.75,278.96 L544.00,279.05 L544.25,279.12 L544.50,279.19 L544.75,279.24 L545.00,279.30 L545.25,279.34 L545.50,279.39 L545.75,279.42 L546.00,279.46 L546.25,279.50 L546.50,279.55 L546.75,279.59 L547.00,279.63 L547.25,279.67 L547.50,279.70 L547.75,279.73 L548.00,279.76 L548.25,279.78 L548.50,279.81 L548.75,279.83 L549.00,279.85 L549.25,279.87 L549.50,279.88 L549.75,279.90 L550.00,279.91 L550.25,279.93 L550.50,279.94 L550.75,279.95 L551.00,279.96 L551.25,279.97 L551.50,279.98 L551.75,279.99 L552.00,279.99 L552.25,280.00 L552.50,280.00 L552.75,280.00 L553.00,280.00 L553.25,280.00 L553.50,280.00 L553.75,280.00 L554.00,280.00 L554.25,280.00 L554.50,280.00 L554.75,280.00 L555.00,280.00 L555.25,280.00 L555.50,280.00 L555.75,280.00 L556.00,280.00 L556.25,280.00 L556.50,280.00 L556.75,280.00 L557.00,280.00 L557.25,280.00 L557.50,280.00 L557.75,280.00 L558.00,280.00 L558.25,280.00 L558.50,280.00 L558.75,280.00 L559.00,280.00 L559.25,280.00 L559.50,280.00 L559.75,280.00 L560.00,280.00 L560.25,280.00 L560.50,280.00 L560.75,280.00 L561.00,280.00 L561.25,280.00 L561.50,280.00 L561.75,280.00 L562.00,280.00 L562.25,280.00 L562.50,280.00 L562.75,280.00 L563.00,280.00 L563.25,280.00 L563.50,280.00 L563.75,280.00 L564.00,280.00 L564.25,280.00 L564.50,280.00 L564.75,280.00 L565.00,280.00 L565.25,280.00 L565.50,280.00 L565.75,280.00 L566.00,280.00" fill="none" stroke="#4040ff" stroke-width="0.85" stroke-opacity="1" stroke-linejoin="round"/>
<clipPath id="cr"><rect x="445" y="0" width="130" height="278"/></clipPath>
<path d="M440.00,273.18 L440.25,273.03 L440.50,272.88 L440.75,272.74 L441.00,272.59 L441.25,272.44 L441.50,272.29 L441.75,272.15 L442.00,272.00 L442.25,271.90 L442.50,271.79 L442.75,271.69 L443.00,271.59 L443.25,271.49 L443.50,271.38 L443.75,271.28 L444.00,271.18 L444.25,271.07 L444.50,270.97 L444.75,270.87 L445.00,270.76 L445.25,270.65 L445.50,270.54 L445.75,270.44 L446.00,270.34 L446.25,270.25 L446.50,270.15 L446.75,270.05 L447.00,269.94 L447.25,269.84 L447.50,269.74 L447.75,269.63 L448.00,269.53 L448.25,269.42 L448.50,269.31 L448.75,269.20 L449.00,269.08 L449.25,268.97 L449.50,268.85 L449.75,268.73 L450.00,268.61 L450.25,268.48 L450.50,268.35 L450.75,268.22 L451.00,268.10 L451.25,267.98 L451.50,267.86 L451.75,267.73 L452.00,267.60 L452.25,267.46 L452.50,267.31 L452.75,267.16 L453.00,267.00 L453.25,266.83 L453.50,266.64 L453.75,266.42 L454.00,266.15 L454.25,265.84 L454.50,265.52 L454.75,264.99 L455.00,264.09 L455.25,262.64 L455.50,260.36 L455.75,256.92 L456.00,251.92 L456.25,244.97 L456.50,235.72 L456.75,224.02 L457.00,209.94 L457.25,193.92 L457.50,176.79 L457.75,159.77 L458.00,144.35 L458.25,132.16 L458.50,124.67 L458.75,122.93 L459.00,127.19 L459.25,136.86 L459.50,150.69 L459.75,167.08 L460.00,184.45 L460.25,201.40 L460.50,216.87 L460.75,230.17 L461.00,241.03 L461.25,249.47 L461.50,255.75 L461.75,260.22 L462.00,263.29 L462.25,265.34 L462.50,266.69 L462.75,267.56 L463.00,268.34 L463.25,269.23 L463.50,270.02 L463.75,270.74 L464.00,271.43 L464.25,272.09 L464.50,272.74 L464.75,273.37 L465.00,273.54 L465.25,273.60 L465.50,273.65 L465.75,273.69 L466.00,273.73 L466.25,273.77 L466.50,273.80 L466.75,273.83 L467.00,273.88 L467.25,273.92 L467.50,273.96 L467.75,273.99 L468.00,274.00 L468.25,273.98 L468.50,273.96 L468.75,273.93 L469.00,273.90 L469.25,273.87 L469.50,273.84 L469.75,273.81 L470.00,273.78 L470.25,273.74 L470.50,273.70 L470.75,273.67 L471.00,273.63 L471.25,273.59 L471.50,273.55 L471.75,273.51 L472.00,273.47 L472.25,273.43 L472.50,273.38 L472.75,273.34 L473.00,273.29 L473.25,273.24 L473.50,273.19 L473.75,273.13 L474.00,273.08 L474.25,273.02 L474.50,272.96 L474.75,272.90 L475.00,272.84 L475.25,272.78 L475.50,272.72 L475.75,272.66 L476.00,272.59 L476.25,272.53 L476.50,272.46 L476.75,272.40 L477.00,272.33 L477.25,272.29 L477.50,272.24 L477.75,272.20 L478.00,272.15 L478.25,272.10 L478.50,272.05 L478.75,272.00 L479.00,271.94 L479.25,271.88 L479.50,271.82 L479.75,271.77 L480.00,271.71 L480.25,271.65 L480.50,271.59 L480.75,271.53 L481.00,271.46 L481.25,271.38 L481.50,271.29 L481.75,271.20 L482.00,271.09 L482.25,270.96 L482.50,270.80 L482.75,270.59 L483.00,270.29 L483.25,269.84 L483.50,269.15 L483.75,268.04 L484.00,266.30 L484.25,263.67 L484.50,259.79 L484.75,254.25 L485.00,246.66 L485.25,236.71 L485.50,224.26 L485.75,209.47 L486.00,192.86 L486.25,175.37 L486.50,158.26 L486.75,143.10 L487.00,131.52 L487.25,124.95 L487.50,124.30 L487.75,129.67 L488.00,140.30 L488.25,154.81 L488.50,171.59 L488.75,189.06 L489.00,205.85 L489.25,220.98 L489.50,233.83 L489.75,244.20 L490.00,252.16 L490.25,258.08 L490.50,262.27 L490.75,265.12 L491.00,267.01 L491.25,268.23 L491.50,269.03 L491.75,269.55 L492.00,269.91 L492.25,270.17 L492.50,270.39 L492.75,270.58 L493.00,270.75 L493.25,270.90 L493.50,271.04 L493.75,271.17 L494.00,271.30 L494.25,271.88 L494.50,272.45 L494.75,273.03 L495.00,273.59 L495.25,274.16 L495.50,274.72 L495.75,274.98 L496.00,275.02 L496.25,275.06 L496.50,275.09 L496.75,275.12 L497.00,275.15 L497.25,275.18 L497.50,274.66 L497.75,274.00 L498.00,273.34 L498.25,274.04 L498.50,274.73 L498.75,275.29 L499.00,275.31 L499.25,275.32 L499.50,275.33 L499.75,275.34 L500.00,275.35 L500.25,275.36 L500.50,275.37 L500.75,275.38 L501.00,275.39 L501.25,275.40 L501.50,275.40 L501.75,275.40 L502.00,275.40 L502.25,275.40 L502.50,275.40 L502.75,275.40 L503.00,275.40 L503.25,275.40 L503.50,274.77 L503.75,273.50 L504.00,273.50 L504.25,273.50 L504.50,273.50 L504.75,273.50 L505.00,273.50 L505.25,273.50 L505.50,273.50 L505.75,273.50 L506.00,273.50 L506.25,273.50 L506.50,273.50 L506.75,273.50 L507.00,273.50 L507.25,273.50 L507.50,273.50 L507.75,273.50 L508.00,273.50 L508.25,273.50 L508.50,273.50 L508.75,273.50 L509.00,273.50 L509.25,273.50 L509.50,273.50 L509.75,273.50 L510.00,273.50 L510.25,273.50 L510.50,273.50 L510.75,273.50 L511.00,273.50 L511.25,273.25 L511.50,273.00 L511.75,272.75 L512.00,272.50 L512.25,272.50 L512.50,272.50 L512.75,272.50 L513.00,272.50 L513.25,272.50 L513.50,272.50 L513.75,272.50 L514.00,272.50 L514.25,272.50 L514.50,272.50 L514.75,272.50 L515.00,272.50 L515.25,272.50 L515.50,272.50 L515.75,272.50 L516.00,272.50 L516.25,272.50 L516.50,272.50 L516.75,272.50 L517.00,272.50 L517.25,272.50 L517.50,272.50 L517.75,272.50 L518.00,272.50 L518.25,272.50 L518.50,272.50 L518.75,272.50 L519.00,272.50 L519.25,272.50 L519.50,272.65 L519.75,272.85 L520.00,273.04 L520.25,273.23 L520.50,273.42 L520.75,273.50 L521.00,273.50 L521.25,273.50 L521.50,273.50 L521.75,273.50 L522.00,273.50 L522.25,273.50 L522.50,273.50 L522.75,273.50 L523.00,273.50 L523.25,273.50 L523.50,273.50 L523.75,273.50 L524.00,273.50 L524.25,273.50 L524.50,273.49 L524.75,273.48 L525.00,273.47 L525.25,273.46 L525.50,273.45 L525.75,273.44 L526.00,273.43 L526.25,273.42 L526.50,273.40 L526.75,273.39 L527.00,273.37 L527.25,273.36 L527.50,273.42 L527.75,273.59 L528.00,273.77 L528.25,273.94 L528.50,274.11 L528.75,274.28 L529.00,274.45 L529.25,274.61 L529.50,274.36 L529.75,274.01 L530.00,273.65 L530.25,273.30 L530.50,272.96 L530.75,272.92 L531.00,272.88 L531.25,272.83 L531.50,272.79 L531.75,272.73 L532.00,272.67 L532.25,272.60 L532.50,272.52 L532.75,272.43 L533.00,272.33 L533.25,272.21 L533.50,272.05 L533.75,271.85 L534.00,271.58 L534.25,271.18 L534.50,270.56 L534.75,269.64 L535.00,268.27 L535.25,266.26 L535.50,263.38 L535.75,259.39 L536.00,254.08 L536.25,247.36 L536.50,239.25 L536.75,230.02 L537.00,220.15 L537.25,210.40 L537.50,201.72 L537.75,195.19 L538.00,191.81 L538.25,192.19 L538.50,196.23 L538.75,203.24 L539.00,212.19 L539.25,222.00 L539.50,231.76 L539.75,240.77 L540.00,248.58 L540.25,254.99 L540.50,259.98 L540.75,263.70 L541.00,266.36 L541.25,268.19 L541.50,269.42 L541.75,270.24 L542.00,270.78 L542.25,271.14 L542.50,271.41 L542.75,271.61 L543.00,271.76 L543.25,271.89 L543.50,272.00 L543.75,272.10 L544.00,272.19 L544.25,272.26 L544.50,272.33 L544.75,272.43 L545.00,272.63 L545.25,272.82 L545.50,273.02 L545.75,273.21 L546.00,273.39 L546.25,273.59 L546.50,273.78 L546.75,273.98 L547.00,274.17 L547.25,274.36 L547.50,274.54 L547.75,274.72 L548.00,274.80 L548.25,274.84 L548.50,274.88 L548.75,274.93 L549.00,274.97 L549.25,275.00 L549.50,275.04 L549.75,275.08 L550.00,275.11 L550.25,275.15 L550.50,275.18 L550.75,275.21 L551.00,275.24 L551.25,275.27 L551.50,275.30 L551.75,275.33 L552.00,275.36 L552.25,275.39 L552.50,275.41 L552.75,275.43 L553.00,275.45 L553.25,275.47 L553.50,275.50 L553.75,275.52 L554.00,275.54 L554.25,275.56 L554.50,275.58 L554.75,275.67 L555.00,276.00 L555.25,276.33 L555.50,276.67 L555.75,277.00 L556.00,277.20 L556.25,277.20 L556.50,277.20 L556.75,277.20 L557.00,277.20 L557.25,277.20 L557.50,277.20 L557.75,277.20 L558.00,277.20 L558.25,277.20 L558.50,277.20 L558.75,277.20 L559.00,277.20 L559.25,277.20 L559.50,277.20 L559.75,277.20 L560.00,277.20 L560.25,277.20 L560.50,277.20 L560.75,277.20 L561.00,277.20 L561.25,277.20 L561.50,277.20 L561.75,277.20 L562.00,277.20 L562.25,277.20 L562.50,277.20 L562.75,277.20 L563.00,277.20 L563.25,277.20 L563.50,277.20 L563.75,277.20 L564.00,277.20 L564.25,277.20 L564.50,277.20 L564.75,277.35 L565.00,277.60 L565.25,277.85 L565.50,278.10 L565.75,278.35 L566.00,278.40 L566.25,278.40 L566.50,278.40" fill="none" stroke="#444" stroke-width="0.9" stroke-opacity="0.3" clip-path="url(#cr)"/>
</svg>
<div class="t" style="left:4.4px;top:63px;transform-origin:0 0;transform:rotate(-90deg);font-size:12.5px;line-height:12.5px">Counts</div>
<div class="t" style="left:23.7px;top:25px">x10</div>
<div class="t" style="left:47.6px;top:22px;font-size:9.5px;line-height:9.5px">3</div>
<div class="t" style="left:65px;top:22px;color:#808080">1</div>
<div class="t" style="left:738px;top:22px;color:#808080">1</div>
<div class="b" style="left:0;top:1px;width:749px;height:1px;background:#b4b4b4"></div>
<div class="b" style="left:0;top:320px;width:749px;height:1px;background:#ececec"></div>
<div class="b" style="left:0;top:0;width:749px;height:1px;background:#232323"></div>
<div class="b" style="left:1px;top:1px;width:1px;height:320px;background:#b0b0b0"></div>
<div class="b" style="left:0;top:0;width:1px;height:323px;background:#555"></div>
<div class="b" style="left:747px;top:0;width:1px;height:323px;background:#c4c4c4"></div>
<div class="b" style="left:748px;top:0;width:1px;height:323px;background:#000"></div>
<div class="b" style="left:0;top:321px;width:749px;height:1px;background:#0a0a0a"></div>
<div class="b" style="left:0;top:322px;width:749px;height:1px;background:#444"></div>
</div></body></html>
